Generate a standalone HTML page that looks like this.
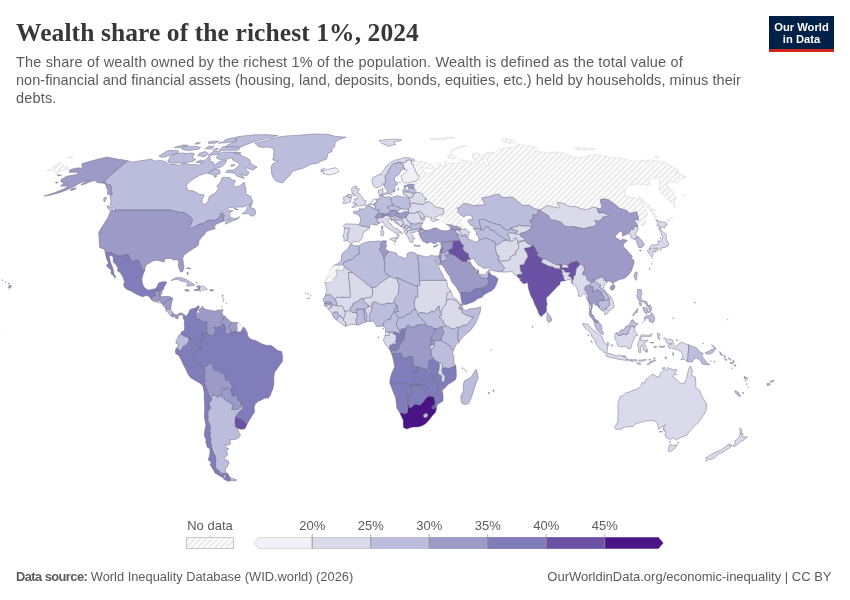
<!DOCTYPE html>
<html lang="en">
<head>
<meta charset="utf-8">
<title>Wealth share of the richest 1%, 2024</title>
<style>
html,body{margin:0;padding:0;background:#fff;}
body{width:850px;height:600px;overflow:hidden;position:relative;font-family:"Liberation Sans",sans-serif;}
#title{position:absolute;left:16px;top:17.5px;font-family:"Liberation Serif",serif;font-weight:bold;font-size:25.5px;line-height:30px;color:#373737;white-space:nowrap;letter-spacing:0.09px;}
#sub{position:absolute;left:16px;top:52.5px;font-size:14.5px;line-height:18px;color:#5b5b5b;white-space:nowrap;}
#sub .a{letter-spacing:0.172px;}#sub .b{letter-spacing:0.037px;}
#logo{position:absolute;left:769px;top:16px;width:65px;height:36px;background:#002147;border-bottom:3px solid #ce261e;box-sizing:border-box;color:#fff;font-weight:bold;font-size:11.2px;line-height:12px;text-align:center;padding-top:4.5px;letter-spacing:0;}
#src{position:absolute;left:16px;top:569px;font-size:12.85px;color:#5b5b5b;white-space:nowrap;}
#src b{font-weight:bold;letter-spacing:-0.55px;}
#lic{position:absolute;right:18.5px;top:569px;font-size:13px;color:#5b5b5b;white-space:nowrap;}
svg{position:absolute;left:0;top:0;}
svg path{stroke-width:0.45;stroke-linejoin:round;}
svg text{font-family:"Liberation Sans",sans-serif;font-size:13px;fill:#5b5b5b;}
</style>
</head>
<body>
<div id="title">Wealth share of the richest 1%, 2024</div>
<div id="sub"><span class="a">The share of wealth owned by the richest 1% of the population. Wealth is defined as the total value of</span><br><span class="b">non-financial and financial assets (housing, land, deposits, bonds, equities, etc.) held by households, minus their</span><br><span class="a">debts.</span></div>
<div id="logo">Our World<br>in Data</div>
<svg width="850" height="600" viewBox="0 0 850 600">
<defs>
<pattern id="hatch" width="4.1" height="4.1" patternUnits="userSpaceOnUse" patternTransform="rotate(45)">
<rect width="4.1" height="4.1" fill="#fff"/><line x1="2.05" y1="0" x2="2.05" y2="4.1" stroke="#e8e8e8" stroke-width="1.9"/>
</pattern>
</defs>
<g id="map">
<path d="M69.9,169.8 74.4,168.4 77.0,168.1 79.7,167.8 81.1,168.1 82.6,168.4 82.1,166.6 81.9,165.2 81.9,163.7 86.3,162.4 90.7,161.1 94.8,160.0 98.9,158.9 103.0,158.0 107.2,157.1 109.1,157.5 111.1,157.9 113.0,158.2 115.6,158.8 118.1,159.3 121.0,159.6 123.9,160.0 125.8,160.4 127.8,160.8 122.7,165.0 117.8,169.2 112.9,173.4 108.2,177.8 103.5,182.2 106.1,182.5 106.7,184.6 109.7,184.4 111.3,185.6 111.3,188.0 111.3,190.7 112.4,192.6 112.0,194.6 110.7,195.5 109.1,194.7 107.5,193.9 107.9,190.2 106.4,187.8 105.9,185.3 104.7,183.4 102.8,183.2 101.0,182.9 98.9,182.7 96.8,182.5 95.2,180.5 90.3,181.7 84.9,184.1 80.8,184.9 85.1,181.7 89.4,180.1 86.9,180.3 82.9,181.7 78.4,184.1 73.4,187.0 66.2,190.2 59.8,192.6 56.3,193.6 52.9,194.6 48.0,195.6 44.0,196.1 49.3,194.4 55.0,192.6 59.3,190.8 63.7,189.0 68.8,186.1 66.0,186.1 63.2,186.1 60.4,186.1 64.0,182.9 62.5,182.3 60.9,181.7 61.1,179.4 66.7,176.3 70.6,175.4 73.3,175.0 75.9,174.7 78.9,172.3 75.4,172.3 72.3,172.3 69.2,172.3Z" fill="#9e9ac8" stroke="#606078"/>
<path d="M127.8,160.8 130.3,161.5 132.8,162.2 135.6,161.6 138.3,161.1 141.9,160.5 145.5,160.0 148.5,159.5 151.5,159.1 152.8,160.1 154.2,161.1 157.9,160.7 161.6,160.4 164.0,161.3 166.4,162.2 167.4,163.3 168.4,164.4 170.9,164.4 173.4,164.5 175.9,164.6 178.5,165.5 183.9,163.3 186.6,164.0 189.3,164.8 192.9,164.6 196.5,164.4 199.0,165.5 202.0,162.8 205.7,159.4 209.5,156.1 210.3,158.9 209.8,161.5 211.6,161.8 213.5,162.2 213.5,165.5 220.2,161.1 223.4,160.7 226.5,160.4 225.3,163.3 222.1,166.6 219.3,167.5 216.5,168.4 213.2,168.2 212.9,171.2 208.1,173.0 205.6,173.5 203.0,174.0 199.7,175.5 196.4,177.0 189.4,181.7 186.3,185.8 186.9,188.0 187.6,190.2 190.7,190.6 193.8,190.9 196.6,192.6 199.4,194.4 201.9,194.6 204.3,194.9 203.1,197.5 201.8,200.1 202.3,203.8 204.9,204.6 208.1,201.3 209.4,196.3 212.5,194.5 215.7,192.6 218.5,189.0 216.9,185.8 220.0,182.9 221.1,180.2 222.2,177.5 225.8,177.5 229.5,177.5 231.0,178.8 232.6,180.1 235.4,180.5 233.5,185.3 235.5,187.0 239.8,185.8 244.3,182.2 245.1,185.6 245.9,189.0 245.8,193.9 248.2,195.1 250.6,196.3 252.7,201.3 251.9,203.8 247.4,205.5 242.8,207.1 238.8,207.1 234.8,207.1 232.2,207.4 229.6,207.6 224.6,210.4 219.0,214.5 222.7,212.9 227.7,210.1 230.3,210.4 233.0,210.7 229.7,213.2 229.9,217.0 231.7,217.8 233.9,218.3 236.1,218.8 239.9,216.5 238.2,218.6 235.8,219.9 231.2,221.4 228.5,222.8 225.7,224.2 225.3,222.2 229.7,219.6 226.5,219.9 224.1,220.9 223.2,218.6 224.3,215.2 223.7,214.5 221.8,214.2 219.4,216.5 216.6,219.6 214.9,220.4 211.6,220.4 208.3,220.4 205.0,222.2 203.4,223.7 200.5,224.1 197.6,224.5 197.3,226.0 193.1,227.5 188.9,228.9 188.1,227.6 190.3,225.5 191.4,222.6 192.5,219.6 191.1,217.8 189.3,215.8 186.3,214.0 183.3,212.2 181.1,212.7 177.9,211.9 174.7,211.2 172.7,210.7 170.8,210.1 166.8,210.1 162.8,210.1 158.8,210.1 154.8,210.1 150.9,210.1 146.9,210.1 142.9,210.1 138.9,210.1 134.9,210.1 130.9,210.1 127.0,210.1 123.0,210.1 119.0,210.1 115.0,210.1 114.7,209.4 113.2,206.9 111.7,206.0 110.1,205.1 111.0,201.3 110.5,199.1 110.1,196.8 110.8,195.6 110.7,195.5 112.0,194.6 112.4,192.6 111.3,190.7 111.3,188.0 111.3,185.6 109.7,184.4 106.7,184.6 106.1,182.5 103.5,182.2 108.2,177.8 112.9,173.4 117.8,169.2 122.7,165.0Z" fill="#bcbddc" stroke="#606078"/>
<path d="M224.1,220.9 219.3,222.9 216.1,224.2 214.4,226.8 215.3,228.6 211.8,229.7 207.2,231.0 205.8,232.0 204.6,234.6 202.3,236.4 200.7,238.5 198.8,241.1 198.5,244.8 196.2,246.9 192.3,249.2 188.9,251.6 184.4,254.7 182.7,258.1 183.1,261.1 183.5,264.1 183.9,267.8 182.6,271.7 180.5,272.0 179.6,269.4 178.1,265.2 179.0,262.0 176.7,259.4 173.6,260.2 171.4,258.4 168.0,258.6 164.6,258.9 164.6,261.8 161.7,261.5 158.7,260.5 154.2,260.5 151.2,262.0 146.5,264.7 144.8,268.6 144.9,270.1 141.1,268.8 140.7,266.0 139.6,263.2 138.7,260.5 135.5,259.9 133.4,262.0 130.9,260.5 129.5,257.6 128.2,254.7 124.4,254.7 124.0,256.0 120.9,256.0 117.8,256.0 114.3,254.2 110.9,252.4 108.2,252.6 105.4,252.8 104.1,249.0 101.9,248.3 99.8,247.7 99.5,244.9 99.2,242.2 99.3,239.0 98.7,234.6 98.8,232.3 101.3,228.1 104.5,222.9 106.3,220.1 108.1,217.3 109.1,214.5 110.2,211.7 115.0,210.1 119.0,210.1 123.0,210.1 127.0,210.1 130.9,210.1 134.9,210.1 138.9,210.1 142.9,210.1 146.9,210.1 150.9,210.1 154.8,210.1 158.8,210.1 162.8,210.1 166.8,210.1 170.8,210.1 172.7,210.7 174.7,211.2 177.9,211.9 181.1,212.7 183.3,212.2 186.3,214.0 189.3,215.8 191.1,217.8 192.5,219.6 191.4,222.6 190.3,225.5 188.1,227.6 188.9,228.9 193.1,227.5 197.3,226.0 197.6,224.5 200.5,224.1 203.4,223.7 205.0,222.2 208.3,220.4 211.6,220.4 214.9,220.4 216.6,219.6 219.4,216.5 221.8,214.2 223.7,214.5 224.3,215.2 223.2,218.6Z" fill="#9e9ac8" stroke="#606078"/>
<path d="M144.9,270.1 142.9,275.1 141.9,279.6 142.6,284.3 144.7,288.2 146.9,289.2 148.3,290.3 152.6,289.2 155.4,288.7 157.6,285.6 158.4,283.0 162.7,281.7 166.1,281.7 166.3,283.5 164.0,286.9 163.2,290.0 162.3,289.5 160.8,290.8 159.8,291.3 155.7,291.3 154.8,292.9 156.3,295.8 153.6,295.8 152.1,298.1 151.9,300.0 148.5,296.0 146.0,295.5 142.5,296.8 138.1,295.0 134.9,293.4 131.1,291.1 127.5,289.8 124.4,287.2 123.5,284.5 124.6,281.7 122.9,277.2 120.2,272.5 117.4,270.7 118.0,268.1 116.1,264.9 113.3,262.0 113.1,256.8 110.0,255.0 109.4,256.8 110.4,262.0 112.0,266.0 113.3,269.9 113.8,273.8 115.9,277.2 114.6,278.0 114.2,276.4 111.0,273.5 111.3,269.9 108.2,267.8 106.4,265.2 108.6,263.1 106.6,258.6 105.7,255.2 105.4,252.9 105.4,252.8 108.2,252.6 110.9,252.4 114.3,254.2 117.8,256.0 120.9,256.0 124.0,256.0 124.4,254.7 128.2,254.7 129.5,257.6 130.9,260.5 133.4,262.0 135.5,259.9 138.7,260.5 139.6,263.2 140.7,266.0 141.1,268.8Z" fill="#807dba" stroke="#606078"/>
<path d="M162.3,289.5 162.0,292.1 161.2,294.7 159.9,296.3 159.2,296.3 159.8,291.3 160.8,290.8Z" fill="#9e9ac8" stroke="#606078"/>
<path d="M159.9,296.3 161.2,296.8 158.9,299.2 158.3,300.2 156.6,301.8 153.6,301.3 151.9,300.0 152.1,298.1 153.6,295.8 156.3,295.8 154.8,292.9 155.7,291.3 159.8,291.3 159.2,296.3Z" fill="#9e9ac8" stroke="#606078"/>
<path d="M161.2,296.8 163.1,296.6 166.5,296.6 168.8,296.3 171.4,297.6 172.7,298.7 169.0,299.2 166.5,301.3 164.3,302.8 162.8,303.9 162.3,304.2 161.7,303.1 160.3,301.3 158.3,300.2 158.9,299.2Z" fill="#9e9ac8" stroke="#606078"/>
<path d="M172.7,298.7 172.0,301.3 171.2,305.2 170.6,309.1 170.9,309.4 168.4,309.1 166.1,308.9 164.2,306.5 162.3,304.2 162.8,303.9 164.3,302.8 166.5,301.3 169.0,299.2Z" fill="#9e9ac8" stroke="#606078"/>
<path d="M170.9,309.4 172.1,311.7 172.9,312.8 172.2,314.4 172.0,316.7 170.3,315.4 168.1,312.5 167.3,311.7 165.7,311.0 166.1,308.9 168.4,309.1Z" fill="#bcbddc" stroke="#606078"/>
<path d="M172.9,312.8 174.2,314.4 176.5,314.9 178.9,313.8 180.1,312.8 182.4,313.3 184.8,315.1 184.2,317.2 183.5,319.1 182.9,316.2 181.1,314.4 179.2,315.4 177.8,316.4 178.6,318.3 176.3,318.8 174.8,317.0 172.0,316.7 172.2,314.4Z" fill="#9e9ac8" stroke="#606078"/>
<path d="M161.7,303.1 159.0,302.8 156.6,301.8 158.3,300.2 160.3,301.3Z" fill="#dadaeb" stroke="#606078"/>
<path d="M184.8,315.1 186.1,317.0 187.4,314.4 189.1,312.3 189.4,310.2 191.1,308.9 195.3,308.1 198.5,305.5 199.3,307.0 196.9,308.9 195.0,313.0 196.0,316.2 196.4,318.8 200.5,319.6 202.9,321.9 207.3,321.7 206.5,326.1 207.6,329.0 206.4,330.6 208.4,334.8 205.1,334.1 201.8,333.5 201.7,335.0 203.1,335.3 202.6,339.2 201.3,338.4 201.4,343.7 201.6,348.9 199.8,347.8 197.2,346.0 194.6,344.2 192.7,341.3 189.0,338.2 186.7,336.9 183.9,336.1 180.7,334.2 181.7,331.4 184.0,331.1 184.8,328.0 184.2,323.5 184.6,320.1 183.5,319.1 184.2,317.2Z" fill="#807dba" stroke="#606078"/>
<path d="M199.3,307.0 197.8,309.1 198.7,309.6 201.8,307.8 202.3,306.0 203.4,307.8 206.0,309.6 208.4,309.9 210.8,310.2 214.7,311.2 218.2,309.9 220.5,310.2 219.0,311.5 222.6,313.0 223.0,315.7 225.0,316.2 223.4,318.0 224.0,319.3 222.1,320.4 221.4,322.5 222.9,324.3 222.9,325.9 218.3,327.2 218.0,328.2 213.9,327.2 214.8,328.5 216.6,332.1 215.2,331.4 215.2,333.7 211.7,335.8 208.4,334.8 206.4,330.6 207.6,329.0 206.5,326.1 207.3,321.7 202.9,321.9 200.5,319.6 196.4,318.8 196.0,316.2 195.0,313.0 196.9,308.9Z" fill="#9e9ac8" stroke="#606078"/>
<path d="M225.0,316.2 228.2,319.6 231.1,322.2 231.3,322.2 231.3,322.5 230.8,324.3 229.4,325.3 229.1,327.4 230.7,329.3 232.5,332.9 230.6,332.9 227.2,334.8 225.1,333.2 224.6,331.6 225.4,327.7 224.3,326.1 224.8,324.8 222.9,324.3 221.4,322.5 222.1,320.4 224.0,319.3 223.4,318.0Z" fill="#9e9ac8" stroke="#606078"/>
<path d="M231.3,322.2 235.0,322.5 238.4,322.7 238.5,322.8 238.4,323.0 237.2,325.1 237.8,330.1 236.9,331.9 233.9,331.4 232.5,332.9 230.7,329.3 229.1,327.4 229.4,325.3 230.8,324.3 231.3,322.5Z" fill="#9e9ac8" stroke="#606078"/>
<path d="M238.5,322.8 241.9,324.8 243.7,326.9 241.8,330.1 240.8,332.1 238.7,331.9 236.9,331.9 237.8,330.1 237.2,325.1 238.4,323.0Z" fill="url(#hatch)" stroke="#cfcfcf"/>
<path d="M243.7,326.9 245.2,328.7 247.5,333.2 247.5,335.8 249.8,338.4 252.1,339.7 255.6,340.5 260.2,343.1 262.5,344.2 267.2,345.5 270.6,345.2 274.1,347.6 277.6,350.5 281.6,351.5 282.6,356.2 282.4,361.4 279.1,365.9 276.9,369.3 274.7,371.9 273.8,377.1 273.8,380.4 273.9,383.7 272.8,388.9 271.2,392.8 270.3,395.4 268.2,398.1 264.8,398.1 261.5,399.9 258.3,401.2 255.2,404.1 254.1,407.2 254.5,412.5 252.4,415.1 250.2,419.0 248.1,422.1 246.1,426.1 246.1,423.4 244.0,421.3 240.0,418.7 239.1,418.5 235.3,416.9 238.8,411.9 242.6,408.8 242.2,404.9 240.4,404.9 240.7,400.7 238.2,400.7 237.4,397.0 236.4,396.2 232.1,395.7 231.0,390.7 230.9,389.7 231.6,387.6 232.1,385.5 230.1,383.2 229.7,380.5 225.5,380.5 224.9,377.3 224.4,374.0 221.4,373.2 218.5,370.9 215.2,370.6 213.0,368.5 212.5,363.3 209.8,363.8 205.6,366.9 203.0,366.5 200.8,366.7 200.5,362.8 196.9,364.1 195.2,361.7 192.5,357.5 194.3,357.3 192.6,354.9 195.0,351.2 198.3,350.1 201.6,348.9 201.4,343.7 201.3,338.4 202.6,339.2 203.1,335.3 201.7,335.0 201.8,333.5 205.1,334.1 208.4,334.8 211.7,335.8 215.2,333.7 215.2,331.4 216.6,332.1 214.8,328.5 213.9,327.2 218.0,328.2 218.3,327.2 222.9,325.9 222.9,324.3 224.8,324.8 224.3,326.1 225.4,327.7 224.6,331.6 225.1,333.2 227.2,334.8 230.6,332.9 232.5,332.9 233.9,331.4 236.9,331.9 238.7,331.9 240.8,332.1 241.8,330.1Z" fill="#807dba" stroke="#606078"/>
<path d="M246.1,426.1 245.2,428.4 243.1,429.2 240.5,429.2 236.8,428.1 235.3,426.8 234.8,421.6 235.3,416.9 239.1,418.5 240.0,418.7 244.0,421.3 246.1,423.4Z" fill="#6a51a3" stroke="#606078"/>
<path d="M235.3,426.8 235.6,428.4 238.3,430.2 239.1,432.9 240.5,434.4 239.2,437.5 236.5,439.1 234.0,439.5 231.4,439.9 229.8,439.4 230.7,443.8 228.0,445.6 225.1,444.6 226.0,447.7 229.0,448.5 226.8,450.3 227.4,455.4 224.3,457.5 224.5,459.3 228.6,461.1 229.0,462.9 227.0,466.9 225.1,469.5 225.8,472.2 228.2,474.2 224.8,473.5 220.7,473.2 219.0,470.7 216.7,469.5 215.3,466.4 215.6,463.1 215.7,459.3 214.9,455.4 213.4,452.9 211.7,447.7 210.5,442.5 211.0,439.1 209.8,436.0 210.4,432.6 209.7,430.8 210.5,427.4 209.3,424.2 207.8,420.3 208.0,417.7 207.7,413.8 208.4,410.4 210.2,408.5 210.0,407.2 208.8,402.0 211.4,400.7 211.7,398.1 211.2,397.5 213.0,394.9 215.6,395.7 217.8,397.5 218.5,395.4 221.5,396.0 225.5,400.2 230.3,402.8 233.4,404.1 231.9,409.1 235.6,409.6 237.8,409.3 240.3,407.5 240.4,404.9 242.2,404.9 242.6,408.8 238.8,411.9 235.3,416.9 234.8,421.6Z" fill="#bcbddc" stroke="#606078"/>
<path d="M228.2,474.2 226.0,474.0 223.7,475.5 224.1,477.7 221.4,477.0 218.6,475.2 215.2,473.2 213.1,469.5 210.0,464.4 211.4,462.6 208.1,459.8 209.2,456.7 209.9,452.9 210.0,449.0 207.3,447.2 205.8,442.5 206.1,439.9 204.2,435.2 204.7,430.8 205.9,425.5 205.3,422.3 204.7,419.0 204.4,415.1 204.6,409.8 204.7,404.6 204.2,399.4 204.2,396.1 204.2,392.8 203.6,389.4 203.0,386.0 202.8,385.8 204.6,383.7 206.4,387.6 207.7,391.5 208.6,394.1 209.7,397.5 211.2,397.5 211.7,398.1 211.4,400.7 208.8,402.0 210.0,407.2 210.2,408.5 208.4,410.4 207.7,413.8 208.0,417.7 207.8,420.3 209.3,424.2 210.5,427.4 209.7,430.8 210.4,432.6 209.8,436.0 211.0,439.1 210.5,442.5 211.7,447.7 213.4,452.9 214.9,455.4 215.7,459.3 215.6,463.1 215.3,466.4 216.7,469.5 219.0,470.7 220.7,473.2 224.8,473.5Z" fill="#807dba" stroke="#606078"/>
<path d="M202.8,385.8 200.0,383.2 195.2,380.5 191.0,377.9 188.2,374.5 185.8,369.3 183.1,364.1 181.0,359.4 178.8,355.7 175.7,353.6 175.4,349.7 177.6,346.8 177.4,349.4 179.3,349.7 180.7,351.0 182.0,348.4 182.9,346.5 186.1,344.7 188.3,341.8 189.0,338.2 192.7,341.3 194.6,344.2 197.2,346.0 199.8,347.8 201.6,348.9 198.3,350.1 195.0,351.2 192.6,354.9 194.3,357.3 192.5,357.5 195.2,361.7 196.9,364.1 200.5,362.8 200.8,366.7 203.0,366.5 205.4,370.6 204.9,373.7 205.3,375.6 204.2,376.6 204.8,377.9 203.7,379.0 205.9,380.5 204.3,383.2 204.6,383.7Z" fill="#807dba" stroke="#606078"/>
<path d="M177.6,346.8 178.5,344.4 176.1,343.7 176.1,340.5 177.9,337.9 178.2,335.8 180.7,334.2 183.9,336.1 186.7,336.9 189.0,338.2 188.3,341.8 186.1,344.7 182.9,346.5 182.0,348.4 180.7,351.0 179.3,349.7 177.4,349.4Z" fill="#bcbddc" stroke="#606078"/>
<path d="M204.6,383.7 204.3,383.2 205.9,380.5 203.7,379.0 204.8,377.9 204.2,376.6 205.3,375.6 204.9,373.7 205.4,370.6 203.0,366.5 205.6,366.9 209.8,363.8 212.5,363.3 213.0,368.5 215.2,370.6 218.5,370.9 221.4,373.2 224.4,374.0 224.9,377.3 225.5,380.5 229.7,380.5 230.1,383.2 232.1,385.5 231.6,387.6 230.9,389.7 231.0,390.7 228.7,388.4 225.7,388.8 222.6,389.2 221.7,391.5 221.5,396.0 218.5,395.4 217.8,397.5 215.6,395.7 213.0,394.9 211.2,397.5 209.7,397.5 208.6,394.1 207.7,391.5 206.4,387.6Z" fill="#9e9ac8" stroke="#606078"/>
<path d="M221.5,396.0 221.7,391.5 222.6,389.2 225.7,388.8 228.7,388.4 231.0,390.7 232.1,395.7 236.4,396.2 237.4,397.0 238.2,400.7 240.7,400.7 240.4,404.9 240.3,407.5 237.8,409.3 235.6,409.6 231.9,409.1 233.4,404.1 230.3,402.8 225.5,400.2Z" fill="#9e9ac8" stroke="#606078"/>
<path d="M228.0,474.7 229.6,476.5 231.7,478.2 234.3,479.1 236.9,480.0 234.8,480.9 232.7,480.7 230.5,480.5 229.3,477.6Z" fill="#bcbddc" stroke="#606078"/>
<path d="M228.0,474.7 229.3,477.6 230.5,480.5 228.3,481.4 225.7,480.0 223.3,479.0 224.6,477.7 225.3,477.0 225.1,475.2 226.7,474.7Z" fill="#807dba" stroke="#606078"/>
<path d="M350.2,244.3 351.5,244.0 354.3,245.8 356.7,245.6 358.2,246.1 359.3,247.7 359.0,252.9 360.4,253.7 356.4,255.0 355.0,257.1 351.5,259.7 347.4,260.7 343.7,262.8 343.6,265.5 340.3,265.5 336.9,265.5 333.5,265.5 333.5,265.5 333.5,265.4 337.4,263.9 340.8,261.0 341.5,258.1 341.4,255.5 342.8,252.9 346.4,250.0 348.1,248.7 349.5,245.8Z" fill="#bcbddc" stroke="#606078"/>
<path d="M358.2,246.1 360.8,244.5 365.2,242.4 369.5,241.6 373.8,241.6 378.1,240.9 381.6,241.4 381.0,243.7 381.1,247.1 379.4,249.5 382.8,254.2 384.1,258.9 384.8,262.0 384.9,266.0 384.3,269.1 386.2,273.8 390.1,276.4 386.7,278.7 383.4,281.0 380.0,283.2 376.2,286.9 372.5,287.8 370.3,287.7 370.3,286.1 367.1,284.8 365.5,282.7 361.0,279.3 356.6,275.9 352.2,272.5 347.9,269.5 343.6,266.5 343.6,265.5 343.7,262.8 347.4,260.7 351.5,259.7 355.0,257.1 356.4,255.0 360.4,253.7 359.0,252.9 359.3,247.7Z" fill="#bcbddc" stroke="#606078"/>
<path d="M381.6,241.4 384.1,240.3 385.2,241.1 387.0,240.9 386.0,242.7 386.0,245.0 387.0,246.3 385.1,248.2 386.4,249.7 388.2,251.1 388.3,252.9 385.7,255.0 384.1,258.9 382.8,254.2 379.4,249.5 381.1,247.1 381.0,243.7Z" fill="#9e9ac8" stroke="#606078"/>
<path d="M388.2,251.1 391.6,251.8 394.0,252.5 396.4,253.1 397.4,255.5 401.7,257.1 405.1,258.6 407.2,256.8 407.0,253.7 410.2,251.8 413.6,252.6 418.1,255.0 417.8,258.9 418.6,261.5 418.9,266.2 419.1,270.9 419.4,275.6 419.5,280.4 419.7,285.6 417.5,285.6 417.5,286.9 413.4,285.1 409.2,283.2 405.1,281.4 401.0,279.6 396.9,277.7 395.1,278.8 392.6,277.6 390.1,276.4 386.2,273.8 384.3,269.1 384.9,266.0 384.8,262.0 384.1,258.9 385.7,255.0 388.3,252.9Z" fill="#bcbddc" stroke="#606078"/>
<path d="M418.1,255.0 422.6,256.0 427.1,257.1 429.3,256.0 431.4,255.2 434.3,256.0 438.5,256.0 440.5,260.7 439.8,264.7 439.4,265.4 437.7,263.3 435.3,259.7 435.5,262.0 437.8,265.2 438.9,267.3 440.4,270.4 443.0,275.1 443.4,277.7 446.5,280.4 442.0,280.4 437.5,280.4 433.0,280.4 428.5,280.4 424.0,280.4 419.5,280.4 419.4,275.6 419.1,270.9 418.9,266.2 418.6,261.5 417.8,258.9Z" fill="#bcbddc" stroke="#606078"/>
<path d="M446.5,280.4 447.3,283.0 447.5,286.6 450.7,290.8 447.4,293.2 446.8,295.8 446.3,298.4 446.6,300.5 445.8,304.7 443.4,307.0 441.9,310.2 441.5,313.0 439.1,309.9 439.2,306.0 437.4,307.3 434.3,312.3 432.0,311.0 429.7,312.5 427.4,313.6 424.0,313.0 420.1,312.3 418.0,315.1 417.5,312.5 415.6,309.4 414.7,307.8 414.1,302.6 414.7,299.8 415.3,297.1 417.8,296.8 417.7,291.9 417.5,286.9 417.5,285.6 419.7,285.6 419.5,280.4 424.0,280.4 428.5,280.4 433.0,280.4 437.5,280.4 442.0,280.4Z" fill="#dadaeb" stroke="#606078"/>
<path d="M450.7,290.8 452.0,294.1 453.3,297.4 456.8,299.4 460.2,303.4 461.9,304.7 460.3,305.2 457.4,302.3 455.0,300.2 452.3,299.7 449.7,298.9 446.6,300.5 446.3,298.4 446.8,295.8 447.4,293.2Z" fill="#dadaeb" stroke="#606078"/>
<path d="M461.9,304.7 462.6,306.8 461.3,307.6 462.4,307.9 461.6,309.1 459.1,309.1 459.0,307.6 460.3,305.2Z" fill="#bcbddc" stroke="#606078"/>
<path d="M462.4,307.9 465.3,310.7 468.2,309.6 471.0,308.6 475.6,308.3 478.1,307.6 480.6,306.8 480.5,310.4 479.9,313.0 478.2,317.0 476.0,322.2 473.8,326.1 470.4,330.6 467.6,332.7 463.5,336.6 460.0,340.3 459.1,342.3 457.7,340.0 457.7,335.3 457.7,330.6 459.7,327.6 460.0,327.2 463.4,325.1 466.8,324.8 470.2,320.9 473.6,317.0 471.3,317.0 467.8,315.7 464.3,314.4 461.9,312.5 461.6,309.1Z" fill="#bcbddc" stroke="#606078"/>
<path d="M459.1,342.3 455.8,345.0 454.4,348.6 453.5,350.2 449.8,347.1 450.1,346.0 445.7,343.3 441.3,340.5 441.6,337.1 443.9,333.2 442.7,330.1 441.5,326.9 442.4,326.9 445.9,325.9 448.2,326.4 451.0,328.5 454.2,328.7 457.2,326.9 459.7,327.6 457.7,330.6 457.7,335.3 457.7,340.0Z" fill="#bcbddc" stroke="#606078"/>
<path d="M453.5,350.2 452.5,353.6 454.1,356.2 453.5,360.1 454.5,364.1 455.9,365.4 451.5,367.5 449.1,368.5 445.2,368.0 442.5,368.1 442.4,364.1 441.2,362.8 438.8,362.5 436.7,361.7 433.9,359.4 431.3,354.9 431.1,352.2 430.9,349.5 432.2,349.1 434.1,346.5 433.6,344.2 434.3,343.9 433.5,340.6 437.4,340.6 441.3,340.5 445.7,343.3 450.1,346.0 449.8,347.1Z" fill="#bcbddc" stroke="#606078"/>
<path d="M455.9,365.4 456.2,370.6 456.4,375.8 455.5,379.8 452.4,381.8 448.4,384.2 447.0,385.5 443.6,389.2 442.0,390.2 442.9,394.1 443.1,399.4 442.7,401.2 438.3,403.8 436.8,405.7 436.6,408.3 434.9,408.1 434.7,405.8 435.0,402.0 434.4,399.2 433.7,396.5 436.4,393.6 437.5,389.7 437.9,386.3 438.3,381.6 436.0,381.1 432.5,378.7 432.1,377.1 435.1,376.1 439.0,374.5 441.7,375.8 441.5,380.5 443.5,382.6 444.8,379.8 445.1,376.6 442.3,373.2 442.0,369.8 442.5,368.1 445.2,368.0 449.1,368.5 451.5,367.5Z" fill="#807dba" stroke="#606078"/>
<path d="M436.6,408.3 435.4,412.5 433.0,415.1 431.8,416.4 429.2,420.0 425.6,423.7 422.1,425.8 419.2,426.8 416.2,427.0 413.3,427.1 411.1,427.4 406.6,428.9 403.4,427.6 403.2,423.7 403.2,420.3 401.2,415.9 399.8,412.7 402.0,413.0 405.3,413.5 407.6,412.2 407.8,407.5 408.0,402.8 409.3,408.0 412.3,406.7 414.7,404.1 417.5,404.6 420.2,405.1 423.6,401.5 426.2,397.5 429.5,396.0 433.7,396.5 434.4,399.2 435.0,402.0 434.7,405.8 433.0,405.4 432.0,407.7 433.0,409.3 434.9,408.1Z" fill="#4a1486" stroke="#606078"/>
<path d="M399.8,412.7 397.0,408.5 396.3,403.3 396.0,400.4 395.7,397.5 393.6,392.8 392.5,390.0 391.4,387.1 389.9,383.2 392.7,382.4 394.9,383.4 398.3,383.4 401.8,383.4 405.2,383.4 408.0,384.2 410.8,385.0 413.6,384.5 416.3,383.9 418.8,383.7 420.5,384.5 418.8,385.0 416.1,385.0 413.4,385.4 410.8,385.8 410.7,390.6 410.5,395.4 408.2,395.4 408.1,399.1 408.0,402.8 407.8,407.5 407.6,412.2 405.3,413.5 402.0,413.0Z" fill="#807dba" stroke="#606078"/>
<path d="M389.9,383.2 390.0,379.8 390.8,376.5 391.7,373.2 393.2,369.9 394.7,366.7 393.6,361.4 392.5,356.2 391.4,353.6 394.1,353.3 397.7,353.3 401.3,353.3 402.2,357.5 405.1,357.9 407.9,358.3 407.9,356.2 410.3,356.2 413.2,357.0 413.4,360.4 413.6,363.8 414.2,367.2 418.2,366.4 418.1,369.2 418.0,371.9 413.5,371.9 413.4,376.1 413.2,380.3 416.3,383.9 413.6,384.5 410.8,385.0 408.0,384.2 405.2,383.4 401.8,383.4 398.3,383.4 394.9,383.4 392.7,382.4Z" fill="#807dba" stroke="#606078"/>
<path d="M391.4,353.6 390.9,352.0 393.0,350.2 396.2,350.7 398.3,349.1 399.4,346.4 400.4,343.7 404.1,339.5 404.4,336.7 404.6,334.0 405.9,328.7 405.9,326.7 408.0,324.6 410.3,326.4 414.7,327.2 415.8,325.3 419.3,324.6 421.4,324.3 423.8,324.4 426.2,324.6 428.6,326.7 431.1,326.1 434.2,328.7 435.3,332.1 432.3,335.3 431.4,339.2 431.4,341.6 430.4,343.7 430.0,345.2 430.4,348.1 430.9,349.5 431.1,352.2 431.3,354.9 433.9,359.4 429.6,360.1 428.4,362.2 428.8,365.4 428.2,369.0 431.4,369.8 431.3,373.0 428.2,370.6 425.5,368.8 422.7,369.0 421.1,367.5 419.1,367.7 418.2,366.4 414.2,367.2 413.6,363.8 413.4,360.4 413.2,357.0 410.3,356.2 407.9,356.2 407.9,358.3 405.1,357.9 402.2,357.5 401.3,353.3 397.7,353.3 394.1,353.3Z" fill="#9e9ac8" stroke="#606078"/>
<path d="M390.9,352.0 390.2,350.2 388.6,348.1 389.8,346.8 390.0,344.7 391.9,345.2 392.8,343.4 395.1,344.2 396.3,343.1 395.1,341.8 396.3,339.2 396.0,334.5 393.5,334.5 393.7,332.1 396.5,332.4 400.0,333.5 400.4,332.1 401.3,328.7 405.9,328.7 404.6,334.0 404.4,336.7 404.1,339.5 400.4,343.7 399.4,346.4 398.3,349.1 396.2,350.7 393.0,350.2Z" fill="#807dba" stroke="#606078"/>
<path d="M388.6,348.1 385.2,344.2 383.3,339.7 384.7,337.1 385.1,335.3 385.2,335.3 389.1,335.3 389.1,332.1 393.7,332.1 393.5,334.5 396.0,334.5 396.3,339.2 395.1,341.8 396.3,343.1 395.1,344.2 392.8,343.4 391.9,345.2 390.0,344.7 389.8,346.8Z" fill="#dadaeb" stroke="#606078"/>
<path d="M385.1,335.3 385.2,335.0 385.6,331.9 389.1,332.1 389.1,335.3 385.2,335.3Z" fill="#f2f0f7" stroke="#606078"/>
<path d="M385.6,331.9 385.4,329.3 384.9,327.4 382.8,325.9 383.5,322.7 385.6,320.9 387.2,319.6 390.2,319.6 391.1,315.9 393.4,313.0 394.7,309.1 396.5,307.8 395.3,303.6 397.2,305.5 397.7,309.6 398.7,311.7 395.2,311.7 395.0,312.8 396.9,315.5 398.7,318.3 396.7,321.9 396.5,324.8 397.9,327.7 400.4,332.1 400.0,333.5 396.5,332.4 393.7,332.1 389.1,332.1Z" fill="#bcbddc" stroke="#606078"/>
<path d="M382.8,325.9 379.6,326.4 376.8,326.7 374.5,322.7 373.1,321.4 369.2,321.3 369.3,317.8 369.4,314.4 371.7,310.4 371.3,307.3 372.4,302.6 375.6,301.5 379.1,303.9 383.6,304.4 387.1,303.1 391.7,303.6 394.2,302.1 395.3,303.6 396.5,307.8 394.7,309.1 393.4,313.0 391.1,315.9 390.2,319.6 387.2,319.6 385.6,320.9 383.5,322.7Z" fill="#bcbddc" stroke="#606078"/>
<path d="M369.2,321.3 366.7,321.7 366.7,318.0 366.7,314.4 364.8,311.0 365.1,309.1 366.2,308.1 368.5,306.8 368.5,305.7 369.4,305.5 371.3,307.3 371.7,310.4 369.4,314.4 369.3,317.8Z" fill="#dadaeb" stroke="#606078"/>
<path d="M366.7,321.7 365.8,321.9 364.4,320.1 364.4,318.3 363.7,314.9 364.2,311.7 362.8,308.9 365.1,309.1 364.8,311.0 366.7,314.4 366.7,318.0Z" fill="#bcbddc" stroke="#606078"/>
<path d="M365.8,321.9 363.0,323.0 358.4,325.3 355.8,324.6 356.5,323.3 355.6,320.1 357.2,316.4 356.6,312.5 356.6,309.1 359.2,309.1 361.9,309.1 362.8,308.9 364.2,311.7 363.7,314.9 364.4,318.3 364.4,320.1Z" fill="#bcbddc" stroke="#606078"/>
<path d="M355.8,324.6 351.5,324.3 348.6,325.3 345.7,326.4 345.7,322.7 343.6,320.9 343.6,318.0 344.6,315.7 345.3,313.3 344.6,311.2 346.9,311.2 348.7,310.2 350.4,310.7 352.2,312.5 356.6,312.5 357.2,316.4 355.6,320.1 356.5,323.3Z" fill="#dadaeb" stroke="#606078"/>
<path d="M345.7,326.4 341.8,324.0 338.1,321.4 336.5,319.9 339.3,315.7 341.1,315.9 341.6,318.0 343.6,318.0 343.6,320.9 345.7,322.7Z" fill="#dadaeb" stroke="#606078"/>
<path d="M336.5,319.9 334.2,318.3 332.6,315.7 332.4,314.1 334.2,312.0 337.2,311.7 338.6,314.1 339.3,315.7Z" fill="#bcbddc" stroke="#606078"/>
<path d="M332.4,314.1 331.5,313.0 329.4,310.4 328.5,309.1 329.2,307.8 331.5,307.3 331.6,304.8 334.2,305.1 336.8,305.5 339.4,306.0 341.7,305.5 343.0,307.8 343.9,309.1 344.6,311.2 345.3,313.3 344.6,315.7 343.6,318.0 341.6,318.0 341.1,315.9 339.3,315.7 338.6,314.1 337.2,311.7 334.2,312.0Z" fill="#dadaeb" stroke="#606078"/>
<path d="M328.5,309.1 326.3,307.0 324.7,305.7 328.1,304.7 331.6,304.8 331.5,307.3 329.2,307.8Z" fill="#dadaeb" stroke="#606078"/>
<path d="M324.7,305.7 324.5,303.6 326.8,303.5 327.7,303.1 331.4,303.4 331.4,302.6 328.6,301.8 324.5,302.3 322.9,299.4 325.3,295.8 327.6,294.7 330.4,294.5 333.3,297.4 335.1,299.3 336.9,302.8 336.8,305.5 334.2,305.1 331.6,304.8 328.1,304.7Z" fill="#bcbddc" stroke="#606078"/>
<path d="M324.5,303.6 324.5,302.3 328.6,301.8 331.4,302.6 331.4,303.4 327.7,303.1 326.8,303.5Z" fill="#bcbddc" stroke="#606078"/>
<path d="M325.3,295.8 326.6,290.8 326.0,286.9 325.6,284.0 324.5,282.2 328.9,282.2 333.3,282.2 333.7,277.7 335.9,276.7 336.0,273.3 336.1,269.9 339.8,269.9 343.6,269.9 343.6,266.5 347.9,269.5 352.2,272.5 348.4,272.5 348.8,276.9 349.2,281.4 349.6,285.8 350.0,290.3 350.4,294.7 350.9,295.3 350.2,297.4 346.0,297.4 341.7,297.4 338.5,297.6 336.7,297.1 335.1,299.3 333.3,297.4 330.4,294.5 327.6,294.7Z" fill="#dadaeb" stroke="#606078"/>
<path d="M324.5,282.2 325.7,279.0 326.9,275.9 329.8,271.2 330.7,269.1 333.5,265.5 333.5,265.5 336.9,265.5 340.3,265.5 343.6,265.5 343.6,266.5 343.6,269.9 339.8,269.9 336.1,269.9 336.0,273.3 335.9,276.7 333.7,277.7 333.3,282.2 328.9,282.2Z" fill="url(#hatch)" stroke="#cfcfcf"/>
<path d="M335.1,299.3 336.7,297.1 338.5,297.6 341.7,297.4 346.0,297.4 350.2,297.4 350.9,295.3 350.4,294.7 350.0,290.3 349.6,285.8 349.2,281.4 348.8,276.9 348.4,272.5 352.2,272.5 356.6,275.9 361.0,279.3 365.5,282.7 367.1,284.8 370.3,286.1 370.3,287.7 372.5,287.8 372.6,291.3 372.6,294.7 371.0,297.6 368.5,297.7 366.0,297.9 363.5,298.8 361.4,298.4 358.4,300.8 356.1,302.1 353.1,303.4 352.9,305.7 350.8,307.0 350.4,310.7 348.7,310.2 346.9,311.2 344.6,311.2 343.9,309.1 343.0,307.8 341.7,305.5 339.4,306.0 336.8,305.5 336.9,302.8Z" fill="#dadaeb" stroke="#606078"/>
<path d="M372.5,287.8 376.2,286.9 380.0,283.2 383.4,281.0 386.7,278.7 390.1,276.4 392.6,277.6 395.1,278.8 396.9,277.7 398.1,283.0 399.1,284.5 398.7,289.1 398.4,293.7 396.3,296.8 394.1,300.0 394.2,302.1 391.7,303.6 387.1,303.1 383.6,304.4 379.1,303.9 375.6,301.5 372.4,302.6 371.3,307.3 369.4,305.5 368.5,305.7 368.5,306.8 367.8,304.7 365.3,302.8 363.9,301.3 363.5,298.8 366.0,297.9 368.5,297.7 371.0,297.6 372.6,294.7 372.6,291.3Z" fill="#dadaeb" stroke="#606078"/>
<path d="M396.9,277.7 401.0,279.6 405.1,281.4 409.2,283.2 413.4,285.1 417.5,286.9 417.7,291.9 417.8,296.8 415.3,297.1 414.7,299.8 414.1,302.6 414.7,307.8 415.6,309.4 412.9,310.2 410.0,314.1 406.7,314.4 404.5,317.0 401.0,317.8 398.7,318.3 396.9,315.5 395.0,312.8 395.2,311.7 398.7,311.7 397.7,309.6 397.2,305.5 395.3,303.6 394.2,302.1 394.1,300.0 396.3,296.8 398.4,293.7 398.7,289.1 399.1,284.5 398.1,283.0Z" fill="#bcbddc" stroke="#606078"/>
<path d="M363.5,298.8 363.9,301.3 365.3,302.8 367.8,304.7 368.5,306.8 366.2,308.1 365.1,309.1 362.8,308.9 361.9,309.1 359.2,309.1 356.6,309.1 356.6,312.5 352.2,312.5 350.4,310.7 350.8,307.0 352.9,305.7 353.1,303.4 356.1,302.1 358.4,300.8 361.4,298.4Z" fill="#bcbddc" stroke="#606078"/>
<path d="M400.4,332.1 397.9,327.7 396.5,324.8 396.7,321.9 398.7,318.3 401.0,317.8 404.5,317.0 406.7,314.4 410.0,314.1 412.9,310.2 415.6,309.4 417.5,312.5 418.0,315.1 419.4,316.4 421.1,318.3 423.9,320.9 426.2,324.6 423.8,324.4 421.4,324.3 419.3,324.6 415.8,325.3 414.7,327.2 410.3,326.4 408.0,324.6 405.9,326.7 405.9,328.7 401.3,328.7Z" fill="#bcbddc" stroke="#606078"/>
<path d="M426.2,324.6 423.9,320.9 421.1,318.3 419.4,316.4 418.0,315.1 420.1,312.3 424.0,313.0 427.4,313.6 429.7,312.5 432.0,311.0 434.3,312.3 437.4,307.3 439.2,306.0 439.1,309.9 441.5,313.0 441.5,315.4 439.0,317.0 440.6,317.8 443.0,320.4 444.4,323.8 445.9,325.9 442.4,326.9 441.5,326.9 439.2,328.0 436.9,328.7 434.2,328.7 431.1,326.1 428.6,326.7Z" fill="#bcbddc" stroke="#606078"/>
<path d="M441.5,313.0 441.9,310.2 443.4,307.0 445.8,304.7 446.6,300.5 449.7,298.9 452.3,299.7 455.0,300.2 457.4,302.3 460.3,305.2 459.0,307.6 459.1,309.1 461.6,309.1 461.9,312.5 464.3,314.4 467.8,315.7 471.3,317.0 473.6,317.0 470.2,320.9 466.8,324.8 463.4,325.1 460.0,327.2 459.7,327.6 457.2,326.9 454.2,328.7 451.0,328.5 448.2,326.4 445.9,325.9 444.4,323.8 443.0,320.4 440.6,317.8 439.0,317.0 441.5,315.4Z" fill="#dadaeb" stroke="#606078"/>
<path d="M434.2,328.7 436.9,328.7 439.2,328.0 441.5,326.9 442.7,330.1 443.9,333.2 441.6,337.1 441.3,340.5 437.4,340.6 433.5,340.6 431.4,341.6 431.4,339.2 432.3,335.3 435.3,332.1Z" fill="#9e9ac8" stroke="#606078"/>
<path d="M431.4,341.6 433.5,340.6 434.3,343.9 433.6,344.2 431.8,345.2 430.0,345.2 430.4,343.7Z" fill="#9e9ac8" stroke="#606078"/>
<path d="M430.0,345.2 431.8,345.2 433.6,344.2 434.1,346.5 432.2,349.1 430.9,349.5 430.4,348.1Z" fill="#dadaeb" stroke="#606078"/>
<path d="M433.9,359.4 436.7,361.7 438.8,362.5 439.5,366.2 438.7,370.6 437.9,373.5 439.0,374.5 435.1,376.1 432.1,377.1 432.5,378.7 429.0,379.8 424.5,385.0 420.5,384.5 418.8,383.7 416.3,383.9 413.2,380.3 413.4,376.1 413.5,371.9 418.0,371.9 418.1,369.2 418.2,366.4 419.1,367.7 421.1,367.5 422.7,369.0 425.5,368.8 428.2,370.6 431.3,373.0 431.4,369.8 428.2,369.0 428.8,365.4 428.4,362.2 429.6,360.1Z" fill="#807dba" stroke="#606078"/>
<path d="M438.8,362.5 441.2,362.8 442.4,364.1 442.5,368.1 442.0,369.8 442.3,373.2 445.1,376.6 444.8,379.8 443.5,382.6 441.5,380.5 441.7,375.8 439.0,374.5 437.9,373.5 438.7,370.6 439.5,366.2Z" fill="#dadaeb" stroke="#606078"/>
<path d="M420.5,384.5 424.5,385.0 429.0,379.8 432.5,378.7 436.0,381.1 438.3,381.6 437.9,386.3 437.5,389.7 436.4,393.6 433.7,396.5 429.5,396.0 425.8,391.5 422.1,388.9Z" fill="#807dba" stroke="#606078"/>
<path d="M408.0,402.8 408.1,399.1 408.2,395.4 410.5,395.4 410.7,390.6 410.8,385.8 413.4,385.4 416.1,385.0 418.8,385.0 420.5,384.5 422.1,388.9 425.8,391.5 429.5,396.0 426.2,397.5 423.6,401.5 420.2,405.1 417.5,404.6 414.7,404.1 412.3,406.7 409.3,408.0Z" fill="#807dba" stroke="#606078"/>
<path d="M434.7,405.8 434.9,408.1 433.0,409.3 432.0,407.7 433.0,405.4Z" fill="#6a51a3" stroke="#606078"/>
<path d="M423.0,415.3 425.8,413.0 428.1,414.5 427.6,416.4 425.4,417.9 423.7,417.2Z" fill="#bcbddc" stroke="#606078"/>
<path d="M476.2,369.3 477.1,372.6 477.9,375.8 478.2,378.4 476.7,381.1 475.5,385.0 474.2,388.9 472.9,392.8 471.5,396.8 470.0,400.7 468.7,403.3 465.2,404.6 461.9,403.3 460.9,399.4 460.9,395.4 463.5,391.5 463.1,386.3 464.1,381.1 468.1,379.0 471.7,376.6 473.5,373.0Z" fill="#bcbddc" stroke="#606078"/>
<path d="M351.3,243.5 349.4,242.4 347.0,240.6 346.8,239.6 348.0,238.0 347.6,235.4 347.0,234.1 348.3,233.6 348.6,230.7 349.9,229.2 349.1,228.2 345.7,228.4 344.4,228.4 343.5,225.5 346.3,223.7 348.6,223.9 350.9,224.0 355.1,224.2 359.2,224.5 360.1,225.3 361.5,225.8 364.5,226.3 366.2,226.8 369.6,227.0 369.7,228.4 367.7,229.7 364.7,231.2 363.0,233.8 362.4,234.9 363.4,236.4 361.9,237.7 361.3,239.6 358.7,241.6 356.1,241.8 353.5,241.9Z" fill="#dadaeb" stroke="#606078"/>
<path d="M347.0,240.6 343.8,241.1 344.1,237.5 342.6,236.7 344.1,232.8 344.4,228.4 345.7,228.4 349.1,228.2 349.9,229.2 348.6,230.7 348.3,233.6 347.0,234.1 347.6,235.4 348.0,238.0 346.8,239.6Z" fill="#dadaeb" stroke="#606078"/>
<path d="M359.2,224.5 360.5,221.1 360.5,217.8 358.5,215.0 356.2,214.1 353.8,213.2 353.3,211.7 356.9,210.7 359.8,211.2 359.4,208.4 360.6,209.1 363.2,208.9 366.0,207.4 366.2,205.3 368.0,204.8 369.4,205.8 371.2,206.9 371.4,207.7 372.6,207.2 372.8,208.1 374.7,208.9 375.8,209.0 376.5,209.6 379.6,210.2 378.4,211.9 378.5,213.7 377.3,214.2 375.5,216.5 375.5,217.3 377.0,216.8 377.5,218.1 377.0,218.3 377.5,219.9 377.3,221.9 379.0,222.4 378.6,223.5 376.6,225.3 374.3,224.8 371.4,224.2 369.5,225.3 369.6,227.0 366.2,226.8 364.5,226.3 361.5,225.8 360.1,225.3Z" fill="#bcbddc" stroke="#606078"/>
<path d="M368.0,204.8 369.8,204.1 371.5,204.2 372.9,204.0 374.5,204.7 374.4,205.6 375.0,205.7 375.6,206.3 375.2,207.2 375.8,209.0 374.7,208.9 372.8,208.1 372.6,207.2 371.4,207.7 371.2,206.9 369.4,205.8Z" fill="#f2f0f7" stroke="#606078"/>
<path d="M369.8,204.1 370.9,202.6 372.2,200.1 373.8,199.1 376.7,199.1 377.0,199.0 377.1,199.3 376.9,200.6 376.8,201.8 376.4,202.8 374.9,203.1 375.1,204.6 375.0,205.7 374.4,205.6 374.5,204.7 372.9,204.0 371.5,204.2Z" fill="#f2f0f7" stroke="#606078"/>
<path d="M377.0,199.0 379.6,198.6 379.9,197.6 379.6,195.3 382.1,195.6 384.3,196.6 384.4,197.6 386.9,196.8 389.4,196.6 390.6,197.8 391.2,199.3 390.7,200.3 391.7,201.3 392.1,202.6 392.8,204.3 392.5,205.5 391.5,205.1 389.0,206.6 387.4,206.9 388.1,208.1 390.9,210.8 389.4,211.9 389.3,213.5 387.9,213.7 385.4,214.2 383.8,214.2 382.6,213.8 380.5,213.5 378.5,213.7 378.4,211.9 379.6,210.2 376.5,209.6 375.8,209.0 375.2,207.2 375.6,206.3 375.0,205.7 375.1,204.6 374.9,203.1 376.4,202.8 376.8,201.8 376.9,200.6 377.1,199.3Z" fill="#bcbddc" stroke="#606078"/>
<path d="M379.6,195.3 378.6,193.6 378.4,190.2 381.0,189.7 383.0,188.5 382.6,191.4 383.8,191.9 382.5,193.1 381.7,194.6 382.1,195.6Z" fill="#dadaeb" stroke="#606078"/>
<path d="M390.6,197.8 392.8,197.1 395.0,196.3 398.4,195.6 399.3,196.6 401.0,196.5 404.1,196.6 407.2,196.7 408.7,197.7 410.0,200.8 409.4,202.3 409.8,203.8 411.1,206.1 408.7,208.6 408.5,209.9 406.1,209.1 403.5,209.6 402.2,208.8 400.9,208.9 398.4,206.9 396.8,206.9 395.5,206.0 393.7,205.6 392.5,205.5 392.8,204.3 392.1,202.6 391.7,201.3 390.7,200.3 391.2,199.3Z" fill="#bcbddc" stroke="#606078"/>
<path d="M401.0,196.5 401.6,195.1 403.6,194.4 405.4,194.9 406.8,195.3 407.2,196.7 404.1,196.6Z" fill="url(#hatch)" stroke="#cfcfcf"/>
<path d="M403.6,194.4 403.2,192.4 404.9,191.7 408.8,191.9 410.7,192.1 414.0,193.4 414.0,194.6 412.8,195.3 412.7,197.1 410.5,197.8 408.7,197.7 407.2,196.7 406.8,195.3 405.4,194.9Z" fill="#dadaeb" stroke="#606078"/>
<path d="M403.2,192.4 402.8,190.2 403.9,188.7 405.6,188.5 407.0,189.9 408.5,190.2 408.9,188.0 410.6,187.8 411.9,188.1 414.6,188.8 415.4,189.2 416.9,192.3 414.0,193.4 410.7,192.1 408.8,191.9 404.9,191.7Z" fill="#bcbddc" stroke="#606078"/>
<path d="M408.9,188.0 407.4,186.8 406.7,184.9 409.4,184.1 412.2,184.2 415.1,184.2 414.0,185.3 414.5,186.5 414.6,188.8 411.9,188.1 410.6,187.8Z" fill="#9e9ac8" stroke="#606078"/>
<path d="M415.1,184.2 416.5,182.9 415.9,181.7 414.1,181.7 415.8,180.8 417.5,179.8 419.5,176.1 416.4,174.2 417.0,173.0 415.0,171.4 415.5,169.6 412.9,166.8 414.1,165.0 411.2,163.9 411.5,162.0 414.3,160.4 416.2,160.8 418.2,161.3 420.8,161.5 423.3,161.7 427.1,163.0 431.0,164.4 434.1,167.1 432.3,168.4 428.9,168.7 426.2,168.2 423.5,167.8 419.9,167.3 423.1,169.3 424.4,172.3 428.3,173.7 430.2,172.8 433.5,172.1 432.8,170.0 435.6,168.0 439.3,168.4 438.2,165.5 437.0,163.3 439.0,163.5 440.9,163.7 442.9,166.6 444.8,165.0 447.8,163.9 450.2,163.6 452.6,163.3 454.5,163.7 456.8,163.4 459.2,163.0 461.5,162.6 463.8,162.2 463.7,160.4 466.9,160.9 470.1,161.5 473.0,162.0 475.8,162.6 479.0,163.7 478.5,161.5 474.3,160.0 472.2,156.7 472.9,154.0 474.7,153.1 477.0,153.5 479.3,154.0 482.4,157.8 484.0,162.2 488.4,166.6 488.7,164.4 486.7,160.0 482.8,156.7 483.8,154.6 486.4,154.9 489.1,155.2 490.0,153.8 490.9,152.5 493.4,152.2 495.9,151.9 497.2,150.6 498.3,149.4 500.2,148.9 502.0,148.4 504.2,148.0 506.4,147.7 508.6,147.4 510.8,147.1 513.1,146.8 515.3,146.6 516.7,145.3 518.1,144.0 521.3,144.7 524.4,145.4 527.4,145.7 530.3,146.0 533.3,146.4 537.5,148.4 536.1,149.7 534.5,151.0 538.3,151.6 542.0,152.1 544.9,152.2 547.7,152.3 550.5,152.5 553.5,152.3 556.5,152.2 559.5,152.1 563.2,153.1 566.9,154.2 573.3,156.7 578.5,158.2 580.0,157.5 581.5,156.7 584.2,156.9 586.9,157.1 587.8,156.0 588.7,154.8 592.0,154.9 595.3,154.9 598.7,155.0 603.1,155.9 607.6,156.7 613.0,158.2 616.0,158.0 618.9,157.8 623.8,158.9 628.7,160.0 632.2,161.3 635.4,161.2 638.6,161.1 640.3,160.5 642.0,160.0 645.7,161.1 649.4,162.2 646.9,160.0 650.1,160.2 653.2,160.4 656.3,160.6 661.0,161.5 665.8,162.4 672.4,166.7 679.0,171.2 678.0,172.3 675.6,171.9 683.8,175.8 686.3,177.0 684.3,177.8 682.2,178.6 680.7,179.6 679.2,180.5 678.4,181.7 677.6,182.9 674.0,182.6 670.3,182.2 668.7,182.8 667.1,183.4 666.6,184.9 669.4,187.8 668.1,188.2 673.5,191.4 673.3,192.6 675.2,195.1 676.3,199.6 673.8,200.1 675.0,205.1 670.1,201.3 666.7,198.2 663.2,195.1 658.9,190.2 659.1,187.8 659.2,185.9 659.3,184.1 659.6,181.7 659.8,178.9 658.4,177.0 655.8,177.8 653.2,178.6 650.7,178.9 648.3,179.1 649.4,181.6 650.4,184.1 648.3,184.7 646.1,185.3 642.7,184.7 639.3,184.1 636.1,184.2 633.0,184.4 630.3,184.9 627.5,185.3 626.5,187.1 625.5,189.0 625.0,192.0 624.4,195.1 630.5,197.6 633.4,197.6 639.1,199.6 642.0,202.1 642.8,205.1 646.7,210.1 647.6,212.7 646.7,217.3 645.5,221.7 643.8,225.5 639.3,225.0 637.9,227.3 637.5,227.0 637.6,225.0 634.8,220.9 635.5,219.6 638.4,220.4 638.3,217.0 637.1,213.5 636.7,211.7 633.2,212.4 629.8,213.5 626.7,210.4 622.9,209.3 619.1,208.1 615.9,205.1 612.5,202.5 609.0,199.9 604.1,198.7 600.7,199.3 600.4,201.1 600.9,203.6 601.8,206.9 600.1,208.9 597.3,208.0 594.8,207.5 592.3,207.1 590.3,208.6 588.4,209.1 586.4,209.6 584.0,209.4 581.5,209.1 577.3,207.1 573.6,206.6 570.4,206.3 567.3,206.1 566.0,204.3 562.3,203.3 558.5,202.3 557.0,202.8 559.4,206.3 558.4,208.1 554.9,207.2 551.5,206.3 547.5,205.6 545.3,206.9 543.1,208.1 541.3,208.9 539.5,209.8 536.9,209.2 534.3,208.6 529.1,205.1 525.7,205.2 522.4,205.3 518.9,202.3 515.4,199.3 512.0,196.8 509.0,197.2 506.0,197.6 503.6,197.3 501.3,197.1 499.8,194.6 495.8,194.4 492.4,195.5 489.0,196.6 485.4,197.2 481.8,197.8 483.1,201.3 485.5,205.1 482.6,205.1 479.7,205.1 476.2,205.3 472.7,205.6 469.3,204.3 466.5,203.8 463.6,203.3 460.5,206.1 460.3,207.6 456.9,207.9 458.4,209.6 457.3,211.7 458.5,212.7 462.5,216.3 464.4,216.5 462.0,218.6 460.4,220.9 462.5,225.5 465.4,228.5 464.4,230.2 463.0,229.9 460.8,228.4 457.4,226.3 455.0,226.6 451.9,225.0 449.3,224.8 446.6,224.5 444.2,222.9 440.6,221.1 439.1,219.6 440.5,219.3 441.8,217.8 440.5,216.3 441.5,216.0 443.3,214.7 441.1,215.0 444.0,212.9 443.6,211.2 443.6,208.6 441.5,208.2 439.3,207.9 436.7,207.2 434.2,206.6 433.5,205.1 429.6,201.7 425.8,202.3 424.5,199.6 426.9,199.1 422.5,195.6 422.7,194.4 420.5,193.0 416.9,192.3 415.4,189.2 414.6,188.8 414.5,186.5 414.0,185.3Z" fill="url(#hatch)" stroke="#cfcfcf"/>
<path d="M414.1,181.7 411.6,182.1 409.0,182.5 407.2,182.8 405.3,183.2 402.2,181.0 401.6,178.2 401.0,175.8 403.5,174.0 406.2,171.4 407.4,170.5 405.1,169.3 403.6,167.1 403.3,164.6 401.6,163.5 399.5,162.8 397.5,162.0 399.8,162.2 403.0,162.8 406.1,161.9 406.7,160.2 409.5,159.8 411.5,160.6 411.5,162.0 411.2,163.9 414.1,165.0 412.9,166.8 415.5,169.6 415.0,171.4 417.0,173.0 416.4,174.2 419.5,176.1 417.5,179.8 415.8,180.8Z" fill="#f2f0f7" stroke="#606078"/>
<path d="M405.1,169.3 403.3,169.6 401.6,169.8 400.4,172.3 399.1,174.2 396.2,176.3 394.5,178.2 394.5,181.3 397.3,182.5 398.0,184.1 394.8,186.3 394.3,189.0 393.6,192.1 390.7,192.6 390.3,194.1 388.0,194.1 387.1,192.1 387.5,190.9 385.7,189.0 383.9,185.6 384.8,183.4 385.8,180.5 385.1,178.9 384.9,175.8 387.7,173.5 388.1,170.7 389.8,168.2 391.1,165.9 393.6,163.3 395.4,163.3 397.1,163.3 397.5,162.0 399.5,162.8 401.6,163.5 403.3,164.6 403.6,167.1Z" fill="#bcbddc" stroke="#606078"/>
<path d="M383.9,185.6 382.6,183.2 382.0,185.3 378.9,187.3 376.2,187.8 373.5,186.1 372.2,182.9 372.1,179.4 372.6,177.7 375.6,176.3 378.2,174.7 381.5,174.7 380.4,173.5 382.8,171.2 384.7,168.9 385.7,166.6 387.8,165.5 388.4,163.9 390.8,162.6 393.1,161.1 395.4,160.0 398.6,159.5 401.6,158.2 403.5,157.9 405.3,157.6 407.1,157.7 408.9,157.8 412.5,158.9 414.3,159.3 414.3,160.4 411.5,162.0 411.5,160.6 409.5,159.8 406.7,160.2 406.1,161.9 403.0,162.8 399.8,162.2 397.5,162.0 397.1,163.3 395.4,163.3 393.6,163.3 391.1,165.9 389.8,168.2 388.1,170.7 387.7,173.5 384.9,175.8 385.1,178.9 385.8,180.5 384.8,183.4Z" fill="#dadaeb" stroke="#606078"/>
<path d="M637.9,227.3 637.8,230.7 635.6,233.3 635.5,235.1 638.3,236.9 635.8,238.0 634.6,239.0 632.3,238.8 631.0,237.7 630.6,234.9 628.1,233.6 630.1,231.0 630.7,228.6 633.4,229.4 633.3,228.1 635.1,225.8 637.5,227.0Z" fill="#dadaeb" stroke="#606078"/>
<path d="M638.3,236.9 642.5,241.1 644.3,245.0 643.0,246.6 641.2,247.4 638.9,247.7 637.6,244.5 636.5,241.1 634.6,239.0 635.8,238.0Z" fill="#bcbddc" stroke="#606078"/>
<path d="M628.1,233.6 626.0,234.6 624.0,235.6 622.7,236.2 622.1,232.0 619.6,231.2 617.7,233.8 615.3,235.4 615.6,237.5 618.9,239.6 620.7,240.6 622.8,239.0 627.4,240.6 624.9,242.4 624.0,243.7 622.9,246.3 626.3,249.5 629.1,252.9 632.3,256.3 631.2,258.6 633.9,260.2 633.9,263.9 632.6,267.3 631.6,270.4 629.7,273.5 626.9,276.4 623.9,278.5 620.7,279.3 619.2,279.8 616.5,281.1 613.3,282.4 613.2,284.8 611.6,281.9 608.5,281.1 607.5,281.7 604.3,280.4 603.9,278.0 600.6,276.9 597.7,278.8 593.9,279.3 593.6,282.4 592.0,281.5 589.8,281.8 587.3,280.1 585.8,275.1 583.1,275.1 582.5,273.0 584.5,270.1 583.5,265.7 580.1,264.0 576.8,261.0 575.0,261.8 571.2,262.8 567.7,265.3 566.7,264.7 563.1,264.1 561.8,266.5 561.2,264.7 559.7,264.9 556.0,264.7 552.8,263.1 549.5,261.3 545.3,259.2 542.6,258.9 539.6,257.2 536.7,255.5 537.8,252.6 536.0,251.6 535.4,248.2 532.1,245.0 527.9,244.0 524.6,240.5 523.7,237.2 521.2,236.9 520.3,234.7 520.5,233.0 524.5,232.3 528.2,230.5 530.0,229.0 531.8,227.6 532.1,225.0 529.5,220.4 532.9,219.1 532.6,214.7 535.2,214.7 537.9,214.7 537.4,211.7 539.5,209.8 542.5,211.9 548.1,215.2 551.2,219.9 554.0,220.2 556.7,220.6 561.5,222.4 565.3,226.3 568.2,226.4 571.1,226.5 574.1,226.6 578.7,227.6 583.4,228.6 586.2,227.9 589.0,227.1 591.4,226.7 593.9,226.3 596.5,223.7 594.5,220.4 598.5,220.9 600.3,220.0 602.1,219.1 602.6,217.0 605.5,216.5 608.3,216.0 607.8,214.7 602.9,212.7 600.8,212.9 598.7,213.2 597.9,212.2 597.3,208.0 600.1,208.9 601.8,206.9 600.9,203.6 600.4,201.1 600.7,199.3 604.1,198.7 609.0,199.9 612.5,202.5 615.9,205.1 619.1,208.1 622.9,209.3 626.7,210.4 629.8,213.5 633.2,212.4 636.7,211.7 637.1,213.5 638.3,217.0 638.4,220.4 635.5,219.6 634.8,220.9 637.6,225.0 637.5,227.0 635.1,225.8 633.3,228.1 633.4,229.4 630.7,228.6 630.1,231.0Z" fill="#9e9ac8" stroke="#606078"/>
<path d="M607.5,281.7 605.1,283.8 603.6,286.9 604.2,289.5 607.1,293.4 610.4,296.0 613.1,301.3 613.8,305.2 613.4,307.8 610.2,310.4 608.3,310.7 608.1,313.0 605.2,315.1 604.3,312.3 603.2,310.7 604.6,309.4 606.6,309.1 606.2,307.6 609.7,305.2 609.4,302.3 609.1,299.4 608.8,297.4 605.9,293.4 601.8,289.0 599.2,286.9 601.0,285.3 596.9,283.2 593.9,279.3 597.7,278.8 600.6,276.9 603.9,278.0 604.3,280.4Z" fill="#dadaeb" stroke="#606078"/>
<path d="M603.2,310.7 601.2,310.2 599.6,308.3 598.7,305.3 597.7,302.3 598.9,300.8 601.4,300.6 603.9,300.4 605.7,300.2 609.1,299.4 609.4,302.3 609.7,305.2 606.2,307.6 606.6,309.1 604.6,309.4Z" fill="#bcbddc" stroke="#606078"/>
<path d="M599.6,308.3 597.6,305.7 594.7,304.7 594.3,302.8 592.9,302.8 592.4,304.4 592.4,307.0 591.1,310.4 591.5,313.6 593.7,315.7 594.6,319.1 597.0,320.1 598.5,321.7 597.8,322.7 596.2,323.0 595.7,321.6 593.8,321.0 592.3,318.8 589.9,316.2 589.2,313.0 589.8,311.7 591.7,307.0 590.6,304.9 589.1,301.8 587.6,298.7 588.4,295.3 586.5,292.4 584.6,289.5 585.5,286.1 587.8,285.4 590.1,284.7 591.3,286.9 593.1,286.9 593.2,292.1 595.4,290.3 598.3,289.8 601.7,292.4 602.3,295.0 604.1,297.1 603.9,300.4 601.4,300.6 598.9,300.8 597.7,302.3 598.7,305.3Z" fill="#9e9ac8" stroke="#606078"/>
<path d="M598.5,321.7 601.1,324.8 601.9,327.4 601.8,330.1 603.7,334.0 602.1,334.5 599.8,332.7 596.9,330.1 595.0,326.1 594.4,322.7 593.8,321.0 595.7,321.6 596.2,323.0 597.8,322.7Z" fill="#bcbddc" stroke="#606078"/>
<path d="M589.8,311.7 589.3,307.8 589.0,302.6 586.7,298.7 586.0,294.7 583.8,293.4 581.0,296.6 578.4,296.0 578.4,292.1 576.7,288.2 575.2,285.6 572.2,283.5 572.5,280.5 573.6,277.7 573.2,275.1 575.1,275.4 575.6,272.0 576.1,268.6 578.1,266.5 580.1,264.0 583.5,265.7 584.5,270.1 582.5,273.0 583.1,275.1 585.8,275.1 587.3,280.1 589.8,281.8 592.0,281.5 590.1,284.7 587.8,285.4 585.5,286.1 584.6,289.5 586.5,292.4 588.4,295.3 587.6,298.7 589.1,301.8 590.6,304.9 591.7,307.0Z" fill="#dadaeb" stroke="#606078"/>
<path d="M572.2,283.5 570.5,279.6 568.2,279.3 566.6,280.4 564.6,280.9 563.2,277.2 562.8,274.6 561.3,273.8 562.8,272.0 560.9,270.4 561.3,268.8 564.4,269.9 565.3,272.0 567.8,272.1 570.3,272.2 570.7,273.5 569.1,274.6 568.6,275.9 571.3,277.2 572.5,280.5Z" fill="#dadaeb" stroke="#606078"/>
<path d="M564.6,280.9 562.3,280.9 560.0,281.9 560.1,284.3 557.2,286.4 554.2,290.0 550.7,293.4 548.5,296.0 546.3,297.4 546.5,301.3 547.2,303.9 546.4,306.5 546.5,311.0 544.8,313.6 543.0,314.6 541.5,316.7 539.1,314.4 538.3,311.7 535.9,306.5 534.5,303.9 533.3,300.0 530.9,296.0 529.2,290.8 528.5,288.2 527.7,283.0 527.1,281.4 526.8,283.0 523.5,283.8 519.5,279.8 521.8,278.3 518.8,278.3 516.8,275.9 517.9,274.3 520.4,274.2 522.8,274.1 520.4,270.7 520.2,267.8 519.9,264.9 523.7,264.7 525.9,259.7 527.9,256.8 526.7,252.4 525.3,251.1 524.2,248.2 527.4,247.7 530.5,247.1 532.1,245.0 535.4,248.2 536.0,251.6 537.8,252.6 536.7,255.5 539.6,257.2 542.6,258.9 541.3,262.6 544.0,263.6 546.6,264.9 549.2,266.2 552.4,266.5 555.2,268.3 557.8,268.6 560.4,268.8 559.7,264.9 561.2,264.7 561.8,266.5 562.2,267.8 565.6,267.8 568.9,267.7 567.7,265.3 571.2,262.8 575.0,261.8 576.8,261.0 580.1,264.0 578.1,266.5 576.1,268.6 575.6,272.0 575.1,275.4 573.2,275.1 573.6,277.7 572.5,280.5 571.3,277.2 568.6,275.9 569.1,274.6 570.7,273.5 570.3,272.2 567.8,272.1 565.3,272.0 564.4,269.9 561.3,268.8 560.9,270.4 562.8,272.0 561.3,273.8 562.8,274.6 563.2,277.2Z" fill="#6a51a3" stroke="#606078"/>
<path d="M516.8,275.9 514.9,275.1 513.0,272.8 512.4,271.5 508.0,272.0 503.5,272.0 501.4,272.0 504.7,268.1 503.4,266.7 500.7,263.1 498.0,259.8 501.9,261.0 505.6,260.7 507.9,260.2 510.1,259.7 509.9,257.1 513.0,255.0 515.8,254.5 515.5,251.3 517.1,250.5 518.4,248.7 518.8,245.6 517.4,243.5 520.8,241.4 524.6,240.5 527.9,244.0 532.1,245.0 530.5,247.1 527.4,247.7 524.2,248.2 525.3,251.1 526.7,252.4 527.9,256.8 525.9,259.7 523.7,264.7 519.9,264.9 520.2,267.8 520.4,270.7 522.8,274.1 520.4,274.2 517.9,274.3Z" fill="#dadaeb" stroke="#606078"/>
<path d="M501.4,272.0 497.8,271.7 494.4,270.9 491.6,270.4 490.1,267.3 486.2,268.3 482.8,268.1 480.3,266.0 478.0,264.9 476.1,262.3 473.8,258.9 471.6,258.4 470.6,259.6 469.3,258.1 468.5,256.8 468.3,253.9 464.7,251.8 463.6,250.3 462.4,248.2 463.6,245.8 461.5,243.7 459.7,240.7 458.1,237.5 457.2,235.9 457.8,234.9 458.6,234.1 460.4,235.9 462.6,236.2 464.9,234.1 466.2,234.9 465.8,236.4 467.9,237.3 468.6,239.6 471.5,240.1 474.4,241.9 477.5,241.4 479.2,240.2 482.4,238.8 485.9,238.0 488.3,238.9 490.8,239.8 495.2,242.2 496.0,244.8 495.5,249.0 496.4,252.2 497.2,255.5 499.2,255.8 498.0,259.8 500.7,263.1 503.4,266.7 504.7,268.1Z" fill="#bcbddc" stroke="#606078"/>
<path d="M470.6,259.6 469.5,259.4 468.1,259.2 466.6,261.8 462.4,261.5 459.1,259.0 455.8,256.5 452.1,254.5 449.3,253.8 448.1,250.5 450.3,249.2 452.5,247.9 452.6,245.0 452.6,242.4 454.4,240.9 456.9,240.5 459.7,240.7 461.5,243.7 463.6,245.8 462.4,248.2 463.6,250.3 464.7,251.8 468.3,253.9 468.5,256.8 469.3,258.1Z" fill="#6a51a3" stroke="#606078"/>
<path d="M469.5,259.4 469.9,261.3 470.8,263.2 469.3,263.2 468.7,262.0 466.6,261.8 468.1,259.2Z" fill="#dadaeb" stroke="#606078"/>
<path d="M470.8,263.2 472.5,266.0 475.0,268.1 475.7,270.7 477.3,273.2 478.2,273.5 479.2,274.6 479.2,274.9 481.8,277.9 484.7,278.2 487.7,278.5 488.9,280.4 487.8,285.6 484.5,286.9 481.2,288.2 477.8,288.7 474.5,289.2 472.7,290.3 470.2,293.4 468.8,292.9 466.0,292.4 463.3,292.4 461.7,292.1 461.6,294.2 460.7,295.0 458.7,291.3 456.1,286.9 451.7,281.7 449.8,276.4 446.6,272.5 444.8,268.6 441.6,264.7 440.2,264.4 440.6,261.3 440.8,261.3 443.1,261.5 446.2,259.4 447.2,258.1 444.7,255.5 447.0,254.6 449.3,253.8 452.1,254.5 455.8,256.5 459.1,259.0 462.4,261.5 466.6,261.8 468.7,262.0 469.3,263.2Z" fill="#9e9ac8" stroke="#606078"/>
<path d="M477.3,273.2 477.1,271.2 477.8,269.6 479.0,272.0 478.2,273.5Z" fill="#807dba" stroke="#606078"/>
<path d="M479.2,274.6 481.5,274.6 484.6,274.9 485.7,273.8 487.3,271.7 488.8,269.9 489.4,268.8 489.6,270.9 489.8,272.8 488.9,272.8 488.7,275.1 487.7,278.5 484.7,278.2 481.8,277.9 479.2,274.9Z" fill="#bcbddc" stroke="#606078"/>
<path d="M489.8,272.8 491.4,275.1 495.1,276.2 498.1,279.0 496.3,284.3 494.4,288.2 491.7,290.8 488.8,292.1 486.2,293.4 484.2,294.3 482.7,291.3 481.2,288.2 484.5,286.9 487.8,285.6 488.9,280.4 487.7,278.5 488.7,275.1 488.9,272.8Z" fill="#807dba" stroke="#606078"/>
<path d="M484.2,294.3 482.3,297.1 479.9,297.9 477.4,298.7 474.6,301.3 470.7,302.8 466.2,304.4 462.8,304.7 462.0,303.1 460.9,298.7 460.7,295.0 461.6,294.2 461.7,292.1 463.3,292.4 466.0,292.4 468.8,292.9 470.2,293.4 472.7,290.3 474.5,289.2 477.8,288.7 481.2,288.2 482.7,291.3Z" fill="#807dba" stroke="#606078"/>
<path d="M440.6,261.3 440.8,260.6 440.8,261.3Z" fill="#bcbddc" stroke="#606078"/>
<path d="M440.8,260.6 440.5,260.7 438.5,256.0 439.5,254.2 440.0,251.3 441.5,250.7 441.4,252.4 441.4,254.7 441.2,256.3Z" fill="#9e9ac8" stroke="#606078"/>
<path d="M440.0,251.3 440.7,249.2 441.5,247.3 442.5,247.4 443.0,248.4 441.9,250.0 441.5,250.7Z" fill="#807dba" stroke="#606078"/>
<path d="M441.5,247.3 440.7,244.3 440.9,244.0 441.9,243.2 442.3,241.6 444.1,241.9 447.4,241.9 450.9,240.9 454.4,240.9 452.6,242.4 452.6,245.0 452.5,247.9 450.3,249.2 448.1,250.5 444.0,253.4 441.4,252.4 441.5,250.7 441.9,250.0 443.0,248.4 442.5,247.4Z" fill="#9e9ac8" stroke="#606078"/>
<path d="M440.9,244.0 441.1,242.2 439.8,242.2 437.8,241.6 435.6,243.5 433.5,243.5 430.0,241.6 428.9,242.9 426.9,243.2 424.6,241.9 422.4,241.1 421.5,238.8 419.9,237.2 420.3,235.1 418.9,234.6 418.8,233.0 421.4,232.0 424.1,231.6 425.4,231.2 424.4,230.7 422.3,230.7 420.9,231.1 419.9,231.9 418.4,231.7 418.3,231.4 419.3,229.9 418.6,228.9 420.5,227.9 422.0,228.1 424.6,230.2 426.9,230.3 429.6,229.9 433.6,228.1 436.7,228.1 439.8,229.9 443.5,230.7 447.7,230.7 450.8,229.4 453.4,229.4 455.0,230.5 456.0,232.8 458.6,234.1 457.8,234.9 457.2,235.9 458.1,237.5 459.7,240.7 456.9,240.5 454.4,240.9 450.9,240.9 447.4,241.9 444.1,241.9 442.3,241.6 441.9,243.2Z" fill="#9e9ac8" stroke="#606078"/>
<path d="M418.3,231.4 416.0,231.0 413.9,231.5 414.7,232.8 411.9,232.5 411.2,232.0 411.1,233.3 412.8,235.4 412.3,236.4 414.6,238.0 414.7,239.3 413.5,238.5 412.5,238.8 413.0,240.3 413.0,242.4 411.5,242.4 409.9,241.6 408.6,239.0 409.0,238.0 408.1,237.5 407.3,236.2 405.7,234.1 407.1,233.0 407.4,231.1 409.4,230.5 411.5,229.8 414.8,229.4 418.6,228.9 419.3,229.9Z" fill="#dadaeb" stroke="#606078"/>
<path d="M405.7,234.1 404.3,232.5 404.2,229.4 403.8,228.5 404.2,226.7 405.1,226.7 406.4,228.4 406.4,229.9 407.4,231.1 407.1,233.0Z" fill="#dadaeb" stroke="#606078"/>
<path d="M403.8,228.5 401.8,227.0 401.8,226.7 402.1,225.0 403.1,224.2 405.7,225.9 405.1,226.7 404.2,226.7Z" fill="#dadaeb" stroke="#606078"/>
<path d="M401.8,227.0 399.9,225.8 397.5,224.2 394.6,222.4 393.9,220.4 392.6,219.6 391.8,220.9 391.1,219.3 391.2,219.1 392.9,219.1 394.6,219.1 395.1,217.3 396.9,216.5 399.0,217.9 401.9,218.1 402.5,219.9 402.4,220.6 400.3,220.1 398.0,219.9 395.7,219.9 395.8,221.1 396.7,222.4 398.9,224.2 400.0,225.5 401.8,226.7Z" fill="#dadaeb" stroke="#606078"/>
<path d="M391.1,219.3 391.1,219.1 391.2,219.1Z" fill="#bcbddc" stroke="#606078"/>
<path d="M391.1,219.1 391.4,218.8 391.2,219.1Z" fill="#bcbddc" stroke="#606078"/>
<path d="M391.4,218.8 390.0,218.6 388.4,219.6 388.5,221.7 389.2,222.9 391.4,224.2 392.8,226.8 394.6,228.1 397.2,228.4 396.6,229.4 399.0,230.5 401.2,231.7 402.4,233.0 402.0,233.8 399.6,232.3 398.3,233.0 398.2,234.1 399.6,235.9 398.4,236.7 397.6,238.8 396.7,238.5 396.7,237.7 397.7,235.9 396.6,233.3 394.9,232.8 393.6,231.7 392.7,231.0 390.5,230.2 388.7,228.6 386.1,227.1 385.0,225.5 384.5,224.2 383.4,222.7 381.5,221.9 380.1,223.2 378.6,223.5 379.0,222.4 377.3,221.9 377.5,219.9 377.0,218.3 377.5,218.1 379.3,217.8 380.2,216.8 381.5,218.2 382.1,216.7 383.8,217.2 384.4,215.5 385.9,215.4 388.0,215.1 388.4,216.0 391.1,216.5 390.5,217.3 391.0,218.1Z" fill="#dadaeb" stroke="#606078"/>
<path d="M422.7,223.6 421.4,225.0 420.8,226.8 422.0,228.1 420.5,227.9 418.6,228.9 414.8,229.4 411.5,229.8 410.0,227.3 410.2,225.8 411.1,225.0 409.7,223.5 410.1,222.4 411.0,223.5 413.6,223.7 416.2,223.9 419.2,222.7Z" fill="#bcbddc" stroke="#606078"/>
<path d="M424.3,219.5 424.3,220.4 422.7,222.2 422.7,223.6 419.2,222.7 416.2,223.9 413.6,223.7 411.0,223.5 410.1,222.4 408.9,221.7 407.4,220.9 407.5,219.9 404.7,217.5 406.4,217.2 407.2,215.2 409.5,212.7 413.7,213.5 417.0,212.1 419.4,214.5 420.7,216.8 421.2,219.2Z" fill="#dadaeb" stroke="#606078"/>
<path d="M441.1,215.0 439.9,215.0 438.4,216.0 435.5,216.8 434.6,217.5 435.2,218.6 438.5,219.6 436.3,220.4 433.7,221.9 432.5,221.4 430.1,219.3 432.1,217.5 430.9,217.5 428.7,217.0 427.6,216.3 426.0,216.8 424.3,219.5 421.2,219.2 422.6,217.8 424.8,216.8 424.2,215.8 422.2,212.9 419.3,211.4 417.0,212.1 413.7,213.5 409.5,212.7 407.9,211.7 408.5,209.9 408.7,208.6 411.1,206.1 409.8,203.8 412.4,202.8 415.0,203.3 417.6,203.8 421.2,204.1 423.8,204.3 425.8,202.3 429.6,201.7 433.5,205.1 434.2,206.6 436.7,207.2 439.3,207.9 441.5,208.2 443.6,208.6 443.6,211.2 444.0,212.9Z" fill="#dadaeb" stroke="#606078"/>
<path d="M450.8,229.4 450.6,227.9 448.9,225.5 446.6,224.5 449.3,224.8 451.9,225.0 455.0,226.6 457.4,226.3 460.8,228.4 460.8,230.2 458.2,229.9 455.0,230.5 453.4,229.4Z" fill="#9e9ac8" stroke="#606078"/>
<path d="M479.2,240.2 478.1,235.9 476.2,234.6 476.6,232.0 474.7,230.2 473.7,228.8 476.0,228.4 478.3,228.1 481.4,229.9 483.6,229.9 486.0,226.3 489.3,227.6 490.1,229.7 494.1,230.5 496.1,233.3 501.1,236.2 506.4,240.2 502.9,240.9 499.7,244.0 496.0,244.8 495.2,242.2 490.8,239.8 488.3,238.9 485.9,238.0 482.4,238.8Z" fill="#bcbddc" stroke="#606078"/>
<path d="M473.7,228.8 473.2,226.3 470.2,225.0 468.8,222.2 467.4,221.4 469.0,219.6 472.6,219.6 471.5,215.5 467.7,215.0 464.4,216.5 462.5,216.3 458.5,212.7 457.3,211.7 458.4,209.6 456.9,207.9 460.3,207.6 460.5,206.1 463.6,203.3 466.5,203.8 469.3,204.3 472.7,205.6 476.2,205.3 479.7,205.1 482.6,205.1 485.5,205.1 483.1,201.3 481.8,197.8 485.4,197.2 489.0,196.6 492.4,195.5 495.8,194.4 499.8,194.6 501.3,197.1 503.6,197.3 506.0,197.6 509.0,197.2 512.0,196.8 515.4,199.3 518.9,202.3 522.4,205.3 525.7,205.2 529.1,205.1 534.3,208.6 536.9,209.2 539.5,209.8 537.4,211.7 537.9,214.7 535.2,214.7 532.6,214.7 532.9,219.1 529.5,220.4 532.1,225.0 531.8,227.6 528.9,226.0 525.4,226.0 521.8,226.0 518.3,225.0 517.4,226.8 514.9,227.1 512.4,227.3 512.3,227.5 508.9,229.9 507.1,230.7 503.2,228.4 501.3,225.5 497.5,224.4 493.6,223.3 489.9,222.2 486.8,220.6 483.8,219.1 481.3,219.6 478.9,220.1 480.2,225.0 481.4,229.9 478.3,228.1 476.0,228.4Z" fill="#bcbddc" stroke="#606078"/>
<path d="M465.4,228.5 467.2,230.5 470.1,232.3 468.3,232.8 468.4,235.1 467.9,237.3 465.8,236.4 466.2,234.9 464.9,234.1 462.6,236.2 462.3,234.6 460.9,232.8 459.8,231.7 458.2,229.9 460.8,230.2 460.8,228.4 463.0,229.9 464.4,230.2Z" fill="#dadaeb" stroke="#606078"/>
<path d="M377.5,218.1 377.0,216.8 375.5,217.3 375.5,216.5 377.3,214.2 378.5,213.7 380.5,213.5 382.6,213.8 382.6,215.0 384.4,215.5 383.8,217.2 382.1,216.7 381.5,218.2 380.2,216.8 379.3,217.8Z" fill="#9e9ac8" stroke="#606078"/>
<path d="M390.9,210.8 388.1,208.1 387.4,206.9 389.0,206.6 391.5,205.1 392.5,205.5 393.7,205.6 395.5,206.0 396.8,206.9 398.4,206.9 400.9,208.9 399.5,209.9 397.8,210.5 397.3,211.2 395.1,210.5 393.3,210.1 392.8,211.2Z" fill="#bcbddc" stroke="#606078"/>
<path d="M382.6,213.8 383.8,214.2 385.4,214.2 387.9,213.7 389.3,213.5 389.4,211.9 390.9,210.8 392.8,211.2 393.3,210.1 395.1,210.5 397.3,211.2 397.9,212.7 397.8,213.5 396.7,214.2 396.0,215.6 395.0,216.0 393.0,216.8 391.1,216.5 388.4,216.0 388.0,215.1 385.9,215.4 384.4,215.5 382.6,215.0Z" fill="#9e9ac8" stroke="#606078"/>
<path d="M391.4,218.8 391.0,218.1 390.5,217.3 391.1,216.5 393.0,216.8 395.0,216.0 396.0,215.6 396.9,216.5 395.1,217.3 394.6,219.1 392.9,219.1 391.2,219.1Z" fill="#dadaeb" stroke="#606078"/>
<path d="M396.0,215.6 396.7,214.2 397.8,213.5 397.9,212.7 401.1,213.2 403.0,212.2 404.5,211.4 407.0,211.8 407.9,211.7 409.5,212.7 407.2,215.2 406.4,217.2 404.7,217.5 401.9,218.1 399.0,217.9 396.9,216.5Z" fill="#9e9ac8" stroke="#606078"/>
<path d="M397.9,212.7 397.3,211.2 397.8,210.5 399.5,209.9 400.9,208.9 402.2,208.8 403.5,209.6 406.1,209.1 408.5,209.9 407.9,211.7 407.0,211.8 404.5,211.4 403.0,212.2 401.1,213.2Z" fill="#f2f0f7" stroke="#606078"/>
<path d="M409.8,203.8 409.4,202.3 410.0,200.8 408.7,197.7 410.5,197.8 412.7,197.1 412.8,195.3 414.0,194.6 414.0,193.4 416.9,192.3 420.5,193.0 422.7,194.4 422.5,195.6 426.9,199.1 424.5,199.6 425.8,202.3 423.8,204.3 421.2,204.1 417.6,203.8 415.0,203.3 412.4,202.8Z" fill="#dadaeb" stroke="#606078"/>
<path d="M417.0,212.1 419.3,211.4 422.2,212.9 424.2,215.8 424.8,216.8 422.6,217.8 421.2,219.2 420.7,216.8 419.4,214.5Z" fill="#dadaeb" stroke="#606078"/>
<path d="M401.9,218.1 404.7,217.5 407.5,219.9 407.4,220.9 408.9,221.7 410.1,222.4 409.7,223.5 411.1,225.0 410.2,225.8 410.0,227.3 408.3,227.5 407.9,225.9 406.5,224.9 405.7,225.9 403.1,224.2 403.3,222.2 402.4,220.6 402.5,219.9Z" fill="#dadaeb" stroke="#606078"/>
<path d="M401.8,226.7 400.0,225.5 398.9,224.2 396.7,222.4 395.8,221.1 395.7,219.9 398.0,219.9 400.3,220.1 402.4,220.6 403.3,222.2 403.1,224.2 402.1,225.0Z" fill="#dadaeb" stroke="#606078"/>
<path d="M405.1,226.7 405.7,225.9 406.5,224.9 407.9,225.9 408.3,227.5 406.4,228.4Z" fill="#dadaeb" stroke="#606078"/>
<path d="M406.4,228.4 408.3,227.5 410.0,227.3 411.5,229.8 409.4,230.5 407.4,231.1 406.4,229.9Z" fill="#dadaeb" stroke="#606078"/>
<path d="M458.6,234.1 456.0,232.8 455.0,230.5 458.2,229.9 459.8,231.7 460.9,232.8 462.3,234.6 462.6,236.2 460.4,235.9Z" fill="#dadaeb" stroke="#606078"/>
<path d="M441.4,252.4 444.0,253.4 448.1,250.5 449.3,253.8 447.0,254.6 444.7,255.5 447.2,258.1 446.2,259.4 443.1,261.5 440.8,261.3 440.8,260.6 441.2,256.3 441.4,254.7Z" fill="#bcbddc" stroke="#606078"/>
<path d="M512.3,227.5 512.4,227.3 514.9,227.1 517.4,226.8 518.3,225.0 521.8,226.0 525.4,226.0 528.9,226.0 531.8,227.6 530.0,229.0 528.2,230.5 524.5,232.3 520.5,233.0 520.3,234.7 516.7,234.0 513.1,233.3 515.7,232.8 518.0,231.2 515.4,230.2 513.1,229.7 511.3,229.4Z" fill="#dadaeb" stroke="#606078"/>
<path d="M481.4,229.9 480.2,225.0 478.9,220.1 481.3,219.6 483.8,219.1 486.8,220.6 489.9,222.2 493.6,223.3 497.5,224.4 501.3,225.5 503.2,228.4 507.1,230.7 508.9,229.9 512.3,227.5 511.3,229.4 513.1,229.7 515.4,230.2 518.0,231.2 515.7,232.8 513.1,233.3 509.9,233.0 507.7,234.6 509.7,237.7 509.3,240.6 506.4,240.2 501.1,236.2 496.1,233.3 494.1,230.5 490.1,229.7 489.3,227.6 486.0,226.3 483.6,229.9Z" fill="#bcbddc" stroke="#606078"/>
<path d="M496.0,244.8 499.7,244.0 502.9,240.9 506.4,240.2 509.3,240.6 509.9,241.1 512.6,240.9 514.2,239.6 515.2,237.5 517.0,238.8 517.6,241.9 519.6,241.1 522.1,240.8 524.6,240.5 520.8,241.4 517.4,243.5 518.8,245.6 518.4,248.7 517.1,250.5 515.5,251.3 515.8,254.5 513.0,255.0 509.9,257.1 510.1,259.7 507.9,260.2 505.6,260.7 501.9,261.0 498.0,259.8 499.2,255.8 497.2,255.5 496.4,252.2 495.5,249.0Z" fill="#dadaeb" stroke="#606078"/>
<path d="M524.6,240.5 522.1,240.8 519.6,241.1 517.6,241.9 517.0,238.8 515.2,237.5 514.2,239.6 512.6,240.9 509.9,241.1 509.3,240.6 509.7,237.7 507.7,234.6 509.9,233.0 513.1,233.3 516.7,234.0 520.3,234.7 521.2,236.9 523.7,237.2Z" fill="#dadaeb" stroke="#606078"/>
<path d="M559.7,264.9 560.4,268.8 557.8,268.6 555.2,268.3 552.4,266.5 549.2,266.2 546.6,264.9 544.0,263.6 541.3,262.6 542.6,258.9 545.3,259.2 549.5,261.3 552.8,263.1 556.0,264.7Z" fill="#dadaeb" stroke="#606078"/>
<path d="M561.8,266.5 563.1,264.1 566.7,264.7 567.7,265.3 568.9,267.7 565.6,267.8 562.2,267.8Z" fill="#dadaeb" stroke="#606078"/>
<path d="M590.1,284.7 592.0,281.5 593.6,282.4 593.9,279.3 596.9,283.2 601.0,285.3 599.2,286.9 601.8,289.0 605.9,293.4 608.8,297.4 609.1,299.4 605.7,300.2 603.9,300.4 604.1,297.1 602.3,295.0 601.7,292.4 598.3,289.8 595.4,290.3 593.2,292.1 593.1,286.9 591.3,286.9Z" fill="#bcbddc" stroke="#606078"/>
<path d="M597.3,208.0 597.9,212.2 598.7,213.2 600.8,212.9 602.9,212.7 607.8,214.7 608.3,216.0 605.5,216.5 602.6,217.0 602.1,219.1 600.3,220.0 598.5,220.9 594.5,220.4 596.5,223.7 593.9,226.3 591.4,226.7 589.0,227.1 586.2,227.9 583.4,228.6 578.7,227.6 574.1,226.6 571.1,226.5 568.2,226.4 565.3,226.3 561.5,222.4 556.7,220.6 554.0,220.2 551.2,219.9 548.1,215.2 542.5,211.9 539.5,209.8 541.3,208.9 543.1,208.1 545.3,206.9 547.5,205.6 551.5,206.3 554.9,207.2 558.4,208.1 559.4,206.3 557.0,202.8 558.5,202.3 562.3,203.3 566.0,204.3 567.3,206.1 570.4,206.3 573.6,206.6 577.3,207.1 581.5,209.1 584.0,209.4 586.4,209.6 588.4,209.1 590.3,208.6 592.3,207.1 594.8,207.5Z" fill="#dadaeb" stroke="#606078"/>
<path d="M614.9,337.1 614.8,334.0 616.3,332.5 616.9,334.0 618.5,335.5 621.3,335.3 622.2,334.0 625.7,334.5 627.7,334.0 628.4,331.9 629.0,330.3 629.9,328.7 629.8,326.9 631.9,326.4 634.5,327.0 635.0,328.7 634.4,331.4 635.6,332.1 637.9,335.3 635.2,335.8 634.5,337.9 633.3,340.5 632.1,343.1 631.3,347.1 630.8,348.4 627.8,348.6 627.4,346.8 623.9,346.3 621.1,347.1 617.5,345.5 617.1,341.8 615.5,340.0Z" fill="#dadaeb" stroke="#606078"/>
<path d="M616.3,332.5 617.8,333.5 620.1,331.6 620.3,330.3 623.9,329.5 626.1,326.1 629.5,324.8 630.5,322.2 632.0,319.6 633.9,320.6 634.5,322.2 638.0,324.0 636.0,325.6 635.4,326.7 634.5,327.0 631.9,326.4 629.8,326.9 629.9,328.7 629.0,330.3 628.4,331.9 627.7,334.0 625.7,334.5 622.2,334.0 621.3,335.3 618.5,335.5 616.9,334.0Z" fill="#bcbddc" stroke="#606078"/>
<path d="M665.7,340.0 669.2,338.9 672.6,340.0 673.6,344.4 675.9,346.5 679.5,343.1 681.8,342.1 685.2,343.7 688.6,344.7 688.5,349.0 688.2,353.2 687.9,357.5 687.6,361.7 684.3,359.4 680.8,359.6 682.9,356.2 681.4,352.3 678.0,349.9 674.6,349.1 671.2,347.8 669.6,348.4 667.8,345.2 672.0,343.9 667.9,343.7 665.6,341.6Z" fill="#dadaeb" stroke="#606078"/>
<path d="M688.6,344.7 692.1,346.3 696.6,347.8 699.4,351.5 703.2,353.6 701.9,355.7 703.9,358.8 707.0,362.8 709.8,364.8 706.8,364.8 702.3,364.1 701.5,362.5 699.3,359.4 696.0,357.8 693.5,360.1 692.1,362.0 687.6,361.7 687.9,357.5 688.2,353.2 688.5,349.0Z" fill="#bcbddc" stroke="#606078"/>
<path d="M193.7,289.8 196.9,289.5 198.3,289.5 197.6,287.2 196.4,286.1 199.6,285.8 200.2,286.4 200.0,288.5 199.2,289.2 199.6,290.7 198.0,290.3 195.0,290.7Z" fill="#9e9ac8" stroke="#606078"/>
<path d="M200.2,286.4 203.0,285.8 204.2,286.6 205.7,287.7 207.4,289.2 206.0,289.8 203.7,289.8 202.1,290.0 200.3,291.6 199.6,290.7 199.2,289.2 200.0,288.5Z" fill="#dadaeb" stroke="#606078"/>
<path d="M343.6,203.8 342.7,202.3 344.3,200.8 343.5,198.8 343.6,197.1 346.5,196.6 346.4,195.1 348.8,194.4 349.0,194.4 348.7,195.1 347.7,196.1 348.4,197.2 350.2,197.5 351.3,197.6 351.3,197.6 350.9,199.3 350.8,201.8 348.2,202.6 346.2,203.3Z" fill="#dadaeb" stroke="#606078"/>
<path d="M349.0,194.4 351.2,194.6 352.2,196.1 351.3,197.6 350.2,197.5 348.4,197.2 347.7,196.1 348.7,195.1Z" fill="#dadaeb" stroke="#606078"/>
<path d="M318.4,133.9 321.0,134.1 323.7,134.2 326.3,134.3 329.0,134.5 331.0,135.1 333.1,135.7 335.2,136.3 338.0,136.5 340.7,136.8 343.4,137.0 346.2,137.2 343.7,138.0 341.2,138.8 338.6,139.7 335.0,142.5 334.9,146.4 331.9,149.4 332.2,151.4 330.0,152.5 327.8,153.5 327.4,155.6 326.7,158.9 324.0,160.0 321.2,161.1 317.4,163.3 313.9,163.8 310.3,164.4 307.3,166.1 304.3,167.8 301.0,168.7 297.7,169.6 295.2,170.4 292.8,171.2 289.5,175.8 285.7,179.4 282.7,182.9 279.3,182.2 277.3,181.4 275.3,180.5 272.9,177.0 271.6,173.5 271.3,170.0 271.1,166.6 273.4,163.3 277.8,161.1 275.1,160.5 272.5,160.0 273.6,157.8 273.6,154.6 273.8,151.4 273.4,148.4 270.8,147.7 268.3,147.0 265.1,147.2 261.9,147.4 260.0,146.9 258.1,146.4 257.0,145.4 256.0,144.4 255.0,143.0 258.7,142.3 262.3,141.5 265.1,140.8 267.9,140.1 270.5,138.8 274.1,138.0 277.6,137.2 280.8,136.7 283.9,136.3 287.0,135.9 289.9,135.7 292.8,135.6 295.6,135.4 298.5,135.2 301.0,135.0 303.6,134.8 306.1,134.6 308.6,134.3 311.1,134.2 313.5,134.1 315.9,134.0Z" fill="#bcbddc" stroke="#606078"/>
<path d="M320.6,170.0 324.1,168.0 326.3,170.0 328.6,169.3 330.9,168.7 333.1,168.2 335.4,167.8 337.5,168.9 339.1,171.2 336.5,172.8 333.2,173.8 330.0,174.9 326.5,174.4 324.7,174.1 322.9,173.7 324.2,172.3 320.8,171.4 324.5,170.5 322.5,170.3Z" fill="#f2f0f7" stroke="#606078"/>
<path d="M351.8,207.4 354.6,204.6 357.0,204.3 354.9,203.7 352.7,203.1 354.8,200.6 354.2,199.1 357.1,199.1 357.2,196.3 356.2,195.3 353.3,195.6 353.8,193.4 352.0,194.1 352.0,191.4 351.3,189.0 353.7,186.3 357.2,186.3 355.5,188.5 359.2,188.7 358.8,190.9 356.9,192.6 359.7,193.9 360.5,195.8 362.6,197.3 363.4,199.6 364.0,200.3 366.3,200.8 365.8,202.8 364.4,203.8 365.8,204.6 363.6,205.6 360.6,205.8 357.0,206.1 355.6,206.9Z" fill="#dadaeb" stroke="#606078"/>
<path d="M378.9,140.6 381.3,140.3 383.6,140.0 386.0,139.7 388.8,139.5 391.6,139.2 394.4,139.2 397.3,139.2 399.5,139.5 401.8,139.7 399.3,141.0 396.6,141.5 393.8,142.1 395.9,144.4 393.6,145.0 391.2,145.6 388.8,146.2 386.4,145.3 384.0,144.4 380.7,142.5Z" fill="#dadaeb" stroke="#606078"/>
<path d="M447.5,157.8 450.3,158.4 453.6,158.4 456.9,158.4 453.2,154.6 451.4,152.9 453.1,150.4 455.0,149.1 456.8,147.8 458.8,147.1 460.9,146.4 462.9,145.8 464.7,145.7 466.5,145.6 464.3,146.2 462.1,146.8 460.1,147.4 458.0,148.1 455.9,148.8 453.5,149.8 451.0,150.8 449.4,153.5 448.9,155.6 447.0,156.7Z" fill="url(#hatch)" stroke="#cfcfcf"/>
<path d="M501.7,141.5 502.6,140.3 503.4,139.1 504.2,138.0 507.7,138.8 511.4,139.7 515.0,140.6 515.1,142.8 512.5,143.1 509.9,143.4 505.8,142.5Z" fill="url(#hatch)" stroke="#cfcfcf"/>
<path d="M574.5,148.4 577.1,148.0 579.6,147.7 582.1,147.4 585.4,147.7 588.7,148.1 592.0,148.4 595.3,148.8 593.1,149.3 590.8,149.8 587.8,149.9 584.8,149.9 581.7,150.0 578.1,149.2Z" fill="url(#hatch)" stroke="#cfcfcf"/>
<path d="M60.2,162.4 61.6,163.1 62.9,163.9 63.4,165.3 64.0,166.6 65.9,166.8 67.7,167.1 68.4,168.7 64.4,170.0 58.6,172.3 56.2,172.8 54.3,171.6 53.9,170.0 49.8,170.5 47.0,171.2 53.6,166.7Z" fill="url(#hatch)" stroke="#cfcfcf"/>
<path d="M638.6,196.8 642.3,198.8 647.3,203.8 651.6,207.4 655.8,210.9 651.4,209.6 654.2,214.0 657.8,217.0 655.1,216.0 655.5,218.1 652.4,214.0 648.8,208.9 644.7,203.8 640.2,199.3Z" fill="url(#hatch)" stroke="#cfcfcf"/>
<path d="M658.8,229.4 659.3,226.8 656.6,225.0 658.6,224.8 657.2,222.0 655.7,219.3 660.0,221.7 662.6,221.9 665.2,222.2 667.3,224.8 664.9,225.8 664.9,228.1 660.3,226.8 660.6,228.9Z" fill="#dadaeb" stroke="#606078"/>
<path d="M660.7,229.4 663.6,232.0 666.2,234.6 666.2,238.5 667.6,241.6 668.8,244.5 667.5,246.3 666.7,245.0 665.8,247.4 661.9,247.4 662.1,248.2 660.6,250.3 658.1,248.2 655.8,248.2 653.5,248.2 649.5,249.0 649.8,247.1 651.5,245.0 655.3,244.8 658.4,244.5 658.1,240.3 659.2,241.6 661.8,240.3 662.5,238.0 661.4,233.8 660.2,231.7 659.9,230.2Z" fill="#dadaeb" stroke="#606078"/>
<path d="M653.3,250.3 654.7,248.4 657.1,248.4 657.8,249.5 657.4,251.1 655.2,250.5 655.3,252.4 653.7,251.6Z" fill="#dadaeb" stroke="#606078"/>
<path d="M649.4,249.2 651.5,250.0 653.0,252.1 653.1,255.8 652.0,256.8 650.5,255.8 649.3,252.6 647.7,251.6 647.4,250.3 648.5,249.7Z" fill="#dadaeb" stroke="#606078"/>
<path d="M636.0,271.7 637.3,272.5 637.0,275.1 636.4,280.4 634.1,277.7 634.1,275.1 635.1,272.5Z" fill="#bcbddc" stroke="#606078"/>
<path d="M610.0,287.4 611.5,285.6 614.4,285.3 615.1,286.6 614.1,289.0 612.3,290.3 610.3,289.2Z" fill="#9e9ac8" stroke="#606078"/>
<path d="M546.8,312.3 547.8,313.0 550.0,315.7 551.8,318.8 551.4,320.9 548.9,322.5 547.5,321.4 546.9,318.3 546.8,315.7 547.3,313.6Z" fill="#bcbddc" stroke="#606078"/>
<path d="M637.4,289.5 641.1,289.5 642.0,293.4 640.8,296.0 641.3,299.2 643.5,300.8 646.9,301.8 647.7,304.9 645.8,303.9 643.7,302.3 642.0,301.5 639.5,301.8 639.1,300.0 637.8,299.2 636.6,295.5 637.8,294.5 637.4,292.1Z" fill="#bcbddc" stroke="#606078"/>
<path d="M644.2,319.6 644.7,317.0 647.1,315.4 649.7,315.7 651.5,312.5 653.8,315.7 654.8,318.8 654.0,321.4 652.3,323.3 651.7,321.7 649.4,321.7 648.8,318.5 646.9,318.3 646.0,318.8Z" fill="#bcbddc" stroke="#606078"/>
<path d="M648.2,305.2 650.5,305.2 651.8,308.6 650.9,311.2 650.0,311.5 648.8,308.6Z" fill="#bcbddc" stroke="#606078"/>
<path d="M642.9,307.0 645.8,307.8 648.0,309.1 647.2,313.0 646.1,314.1 644.6,312.3 644.9,310.4 643.3,310.4Z" fill="#bcbddc" stroke="#606078"/>
<path d="M632.9,315.9 635.3,313.2 637.7,310.4 638.0,308.3 637.0,309.4 633.4,313.8Z" fill="#bcbddc" stroke="#606078"/>
<path d="M639.0,302.8 641.1,302.8 641.8,305.2 640.7,306.0 639.6,304.4Z" fill="#bcbddc" stroke="#606078"/>
<path d="M582.8,323.3 585.4,323.8 588.0,324.3 589.9,326.9 593.5,330.1 595.8,332.1 599.1,334.2 602.1,336.6 602.8,339.2 604.4,342.6 607.8,345.7 607.4,349.7 607.0,353.1 604.3,353.1 603.0,351.0 599.2,348.4 596.3,344.4 595.0,340.5 591.8,336.6 591.0,333.5 587.5,330.1 584.6,327.4 582.6,323.8Z" fill="#dadaeb" stroke="#606078"/>
<path d="M605.5,355.7 607.5,353.3 609.8,353.6 613.2,354.9 617.7,355.9 618.9,354.9 622.8,355.9 626.8,358.0 626.7,360.4 622.5,359.9 618.7,359.4 614.1,358.0 611.2,358.0 608.2,357.0Z" fill="#dadaeb" stroke="#606078"/>
<path d="M627.0,359.1 629.3,359.4 628.9,360.9 627.6,360.4Z" fill="#dadaeb" stroke="#606078"/>
<path d="M630.2,359.6 631.8,359.6 631.4,361.2 630.1,360.9Z" fill="#dadaeb" stroke="#606078"/>
<path d="M632.0,359.9 634.8,359.4 637.1,359.9 637.0,360.9 634.2,361.2 631.9,361.4Z" fill="#dadaeb" stroke="#606078"/>
<path d="M638.9,359.9 641.7,359.9 646.1,359.4 646.2,360.1 642.7,361.2 639.0,360.9Z" fill="#dadaeb" stroke="#606078"/>
<path d="M636.8,362.8 639.2,362.5 640.9,364.1 638.9,364.8 636.8,363.5Z" fill="#dadaeb" stroke="#606078"/>
<path d="M647.0,364.8 649.5,362.2 650.7,361.4 650.9,362.8 649.1,364.6Z" fill="#dadaeb" stroke="#606078"/>
<path d="M650.7,361.4 654.3,359.9 656.2,359.9 654.2,361.4 650.9,362.8Z" fill="#dadaeb" stroke="#606078"/>
<path d="M638.7,352.3 638.7,347.1 637.4,345.2 638.9,340.5 639.8,337.9 640.3,335.8 642.3,334.5 646.0,335.3 649.5,335.3 652.2,333.7 650.7,336.6 647.2,336.6 643.7,336.6 641.4,336.9 640.5,340.0 643.3,340.3 646.0,340.0 648.1,340.5 646.0,342.1 643.9,342.9 645.2,345.7 646.9,348.4 647.2,351.8 645.6,351.8 643.6,350.2 643.1,347.1 642.4,345.0 641.0,345.7 640.9,350.5 640.7,352.5Z" fill="#dadaeb" stroke="#606078"/>
<path d="M657.5,332.7 658.7,334.0 660.3,334.8 658.8,336.6 659.9,339.7 658.3,338.7 657.6,335.8Z" fill="#dadaeb" stroke="#606078"/>
<path d="M658.6,346.3 661.8,346.3 665.0,346.3 663.1,347.6 659.7,347.1Z" fill="#dadaeb" stroke="#606078"/>
<path d="M653.9,346.5 656.3,346.3 656.2,347.8 654.4,347.6Z" fill="#dadaeb" stroke="#606078"/>
<path d="M705.1,352.8 709.1,351.0 712.7,348.9 714.6,348.9 713.7,351.8 710.1,354.1 706.6,354.1Z" fill="#bcbddc" stroke="#606078"/>
<path d="M711.3,344.7 715.1,347.1 716.1,349.7 715.5,349.1 712.8,346.3Z" fill="#bcbddc" stroke="#606078"/>
<path d="M719.7,351.5 722.3,354.4 721.7,355.9 720.0,353.6Z" fill="#bcbddc" stroke="#606078"/>
<path d="M730.3,362.2 733.0,363.0 732.9,363.8 730.4,363.5Z" fill="#bcbddc" stroke="#606078"/>
<path d="M733.1,359.9 734.4,362.5 733.9,363.0 732.8,360.7Z" fill="#bcbddc" stroke="#606078"/>
<path d="M728.2,357.8 731.0,359.6 730.8,360.1 728.2,358.6Z" fill="#bcbddc" stroke="#606078"/>
<path d="M723.8,355.4 726.0,356.7 725.7,357.3 723.8,355.9Z" fill="#bcbddc" stroke="#606078"/>
<path d="M733.9,364.8 736.1,365.6 735.8,366.2 733.9,365.4Z" fill="#bcbddc" stroke="#606078"/>
<path d="M744.3,376.4 745.5,377.1 745.2,378.7 744.1,378.4Z" fill="#bcbddc" stroke="#606078"/>
<path d="M745.0,379.8 746.2,380.5 745.8,381.1 745.0,380.8Z" fill="#bcbddc" stroke="#606078"/>
<path d="M735.2,390.5 738.1,392.3 740.6,396.0 739.3,396.5 736.5,394.1 734.8,391.8Z" fill="#bcbddc" stroke="#606078"/>
<path d="M767.2,383.4 770.0,383.7 769.9,385.2 766.9,385.5Z" fill="#bcbddc" stroke="#606078"/>
<path d="M770.4,381.3 774.1,380.3 773.8,381.3 770.8,382.4Z" fill="#bcbddc" stroke="#606078"/>
<path d="M690.6,365.9 692.3,370.6 691.6,375.3 695.4,377.1 695.6,380.4 695.8,383.7 695.7,387.1 697.8,388.9 699.9,390.7 701.0,394.1 703.3,398.6 706.0,402.8 706.7,405.9 706.2,408.8 705.6,411.7 703.8,414.7 701.9,417.7 698.8,422.1 694.2,426.3 691.5,429.2 688.8,432.1 686.6,435.5 681.4,437.0 676.2,440.2 673.9,437.8 670.4,439.4 668.2,438.5 666.1,437.5 665.0,434.7 665.9,431.5 664.0,431.0 664.9,428.9 662.9,430.0 663.7,426.8 665.5,424.7 662.2,426.8 658.9,429.2 657.6,424.2 656.9,422.1 654.6,421.2 652.2,420.3 647.5,420.8 643.9,421.6 640.3,422.4 635.2,424.2 633.2,426.6 629.3,426.7 625.4,426.8 620.0,429.5 615.8,429.2 614.4,427.6 616.2,424.6 617.9,421.6 617.7,417.7 618.2,413.0 618.0,410.1 617.7,407.2 618.2,402.0 619.3,399.1 620.2,396.2 621.8,396.5 625.8,392.8 629.4,392.0 633.1,390.2 637.9,388.9 641.5,385.0 642.0,382.4 644.6,383.2 645.3,380.3 649.0,377.1 651.6,374.5 653.9,374.3 656.4,376.6 659.3,376.9 660.3,373.2 663.2,370.3 667.2,369.6 667.6,367.5 670.3,368.6 672.9,369.8 677.0,369.8 674.7,373.2 673.0,377.1 676.1,379.2 679.9,382.9 683.9,383.7 686.5,378.4 687.6,373.2 688.6,369.3 689.6,366.7Z" fill="#dadaeb" stroke="#606078"/>
<path d="M670.0,444.3 673.2,445.3 677.3,444.8 675.1,448.2 671.7,450.8 669.5,451.8 668.1,450.8 668.6,448.2Z" fill="#dadaeb" stroke="#606078"/>
<path d="M740.1,427.9 742.2,430.2 740.9,434.2 743.4,433.6 742.1,436.2 744.0,437.3 747.4,436.5 743.4,440.4 740.9,441.2 737.3,444.6 733.2,446.6 732.7,445.9 735.5,443.0 734.5,441.2 737.2,439.4 739.5,436.0 740.4,432.9 739.9,429.5Z" fill="#dadaeb" stroke="#606078"/>
<path d="M729.8,443.8 729.3,445.6 732.1,445.1 730.5,447.2 725.5,450.3 723.8,451.8 719.2,453.6 714.8,457.7 710.6,459.5 708.2,459.5 705.7,458.0 710.3,454.9 714.9,452.6 720.2,450.3 723.5,448.2 726.0,446.4 728.2,444.6Z" fill="#dadaeb" stroke="#606078"/>
<path d="M170.9,280.6 175.6,277.7 179.0,277.5 182.4,278.0 186.7,279.6 190.9,282.4 194.7,285.1 191.6,285.8 189.1,285.9 186.6,286.0 188.0,284.0 185.3,281.7 180.9,280.9 177.7,279.3 174.2,279.8Z" fill="#bcbddc" stroke="#606078"/>
<path d="M184.8,289.8 187.8,289.5 189.5,290.8 187.6,291.3 184.9,290.6Z" fill="#9e9ac8" stroke="#606078"/>
<path d="M210.1,289.5 213.5,289.8 213.2,290.8 210.0,290.8Z" fill="#9e9ac8" stroke="#606078"/>
<path d="M220.7,309.9 223.0,309.6 222.7,311.5 220.6,311.5Z" fill="#bcbddc" stroke="#606078"/>
<path d="M187.0,272.2 188.1,272.2 188.2,274.6 187.1,274.3Z" fill="#9e9ac8" stroke="#606078"/>
<path d="M188.9,267.5 190.5,268.6 190.1,269.4 188.6,268.1Z" fill="#9e9ac8" stroke="#606078"/>
<path d="M243.4,178.4 240.3,177.3 237.3,176.3 235.5,174.7 233.8,173.0 231.3,172.8 228.7,172.6 225.5,172.1 227.5,170.3 230.7,170.1 233.8,170.0 237.3,167.1 239.8,164.4 238.4,163.3 237.0,162.2 234.8,161.1 232.6,160.0 232.6,157.8 229.3,158.5 226.0,159.2 222.7,160.0 220.9,159.6 219.0,159.3 217.6,158.5 216.2,157.8 219.0,153.5 223.8,151.9 226.0,152.0 228.3,152.1 231.5,152.1 234.7,152.1 237.1,153.0 239.5,154.0 241.1,155.1 242.6,156.3 244.6,157.0 246.5,157.8 248.3,158.9 250.1,160.0 250.2,162.6 251.9,164.0 253.6,165.5 255.4,166.3 257.1,167.1 253.0,170.0 251.1,169.5 249.2,168.9 247.4,168.2 245.6,167.5 246.0,170.0 247.6,171.2 249.2,172.3 246.9,175.8 244.0,175.0 241.1,174.2 242.8,176.2 244.4,178.2Z" fill="#bcbddc" stroke="#606078"/>
<path d="M193.5,161.1 189.6,162.0 185.8,163.0 183.0,163.0 180.2,163.0 177.3,163.0 174.3,163.1 171.2,163.3 169.7,162.7 168.1,162.2 167.9,160.0 170.1,158.7 169.8,156.7 174.6,154.0 178.0,153.4 181.4,152.9 184.2,153.2 187.1,153.5 189.4,153.2 191.7,152.9 193.2,153.4 194.6,154.0 192.2,157.1 193.9,158.3 195.7,159.5Z" fill="#bcbddc" stroke="#606078"/>
<path d="M158.9,155.9 160.3,156.6 161.7,157.4 165.7,156.7 171.4,154.6 174.7,153.8 178.0,153.1 178.4,150.8 175.9,150.6 173.4,150.4 170.4,150.6 167.4,150.8 163.1,153.5Z" fill="#bcbddc" stroke="#606078"/>
<path d="M181.5,149.0 183.4,149.5 185.3,150.1 187.3,150.6 190.9,150.2 194.5,149.8 198.1,149.4 200.6,147.4 198.1,146.9 195.7,146.4 193.2,146.4 190.7,146.4 188.1,146.4 185.5,146.9 182.9,147.4Z" fill="#bcbddc" stroke="#606078"/>
<path d="M197.7,155.6 200.1,156.0 202.5,156.4 204.8,156.7 208.6,153.5 206.9,152.5 205.2,151.4 202.1,152.5 199.1,153.5Z" fill="#bcbddc" stroke="#606078"/>
<path d="M208.3,155.6 211.4,155.2 214.5,154.7 217.7,154.2 220.2,151.4 217.8,151.4 215.5,151.4 213.1,151.4Z" fill="#bcbddc" stroke="#606078"/>
<path d="M218.8,150.4 222.0,150.4 225.2,150.3 228.3,150.3 231.5,150.3 234.7,150.2 237.8,150.2 240.2,148.4 239.1,147.6 237.9,146.8 235.4,146.7 232.8,146.6 230.2,146.5 227.7,146.4 225.2,146.6 222.7,146.8Z" fill="#bcbddc" stroke="#606078"/>
<path d="M225.7,146.8 228.7,146.8 231.7,146.8 234.8,146.9 237.8,146.9 240.8,147.0 243.9,145.7 247.0,144.4 250.0,143.2 253.0,142.1 256.2,141.3 259.4,140.5 262.5,139.7 265.7,138.8 268.9,138.0 272.0,137.2 274.8,136.3 277.6,135.6 275.1,135.3 272.6,135.1 270.1,134.9 267.6,134.6 264.8,134.7 262.0,134.7 259.3,134.7 256.5,134.8 253.7,134.8 250.6,135.2 247.4,135.5 244.1,135.9 240.9,136.3 237.6,136.7 232.0,138.8 233.7,139.4 235.3,140.0 237.0,140.6 232.8,143.0 227.9,144.8Z" fill="#bcbddc" stroke="#606078"/>
<path d="M222.5,143.0 225.4,142.8 228.3,142.5 231.2,142.2 234.1,141.9 237.3,139.2 235.6,138.7 233.8,138.2 232.1,137.7 228.7,138.7 225.2,139.7Z" fill="#bcbddc" stroke="#606078"/>
<path d="M208.7,173.5 211.6,174.4 214.6,175.4 217.4,174.4 220.2,173.5 219.8,170.0 217.6,169.5 215.4,168.9 210.3,171.2Z" fill="#bcbddc" stroke="#606078"/>
<path d="M195.8,162.2 198.3,162.7 200.8,163.3 203.5,161.1 201.9,160.5 200.3,160.0Z" fill="#bcbddc" stroke="#606078"/>
<path d="M242.1,213.7 245.5,211.4 248.1,206.3 252.0,203.6 250.7,207.6 254.3,208.9 255.6,211.4 255.5,214.0 253.3,216.3 250.4,215.5 248.9,213.7 245.5,213.7Z" fill="#bcbddc" stroke="#606078"/>
<path d="M107.2,205.6 109.7,206.6 112.3,207.6 112.8,211.4 110.2,210.7 108.7,209.1 107.3,207.6Z" fill="#bcbddc" stroke="#606078"/>
<path d="M104.3,197.6 106.8,197.6 104.5,202.1 103.5,200.1Z" fill="#bcbddc" stroke="#606078"/>
<path d="M233.6,207.9 236.1,208.8 238.6,209.6 235.0,209.4Z" fill="#bcbddc" stroke="#606078"/>
<path d="M71.3,189.0 76.3,187.8 74.9,189.5 70.4,190.7Z" fill="#9e9ac8" stroke="#606078"/>
<path d="M56.9,174.7 59.1,174.9 61.4,175.1 58.4,175.8Z" fill="#9e9ac8" stroke="#606078"/>
<path d="M55.4,182.5 58.1,182.2 56.1,183.4Z" fill="#9e9ac8" stroke="#606078"/>
<path d="M433.4,246.3 434.8,245.4 438.2,244.6 436.8,246.3 435.0,247.4 433.7,247.0Z" fill="#bcbddc" stroke="#606078"/>
<path d="M414.1,244.8 415.6,245.0 417.9,245.3 420.2,245.6 420.1,246.3 417.0,246.6 414.1,245.8Z" fill="#dadaeb" stroke="#606078"/>
<path d="M389.7,239.0 391.6,238.0 394.0,237.9 396.5,237.7 395.6,240.3 396.1,241.9 393.9,241.6 390.8,239.6Z" fill="#dadaeb" stroke="#606078"/>
<path d="M380.4,231.0 382.5,229.9 383.8,232.0 383.5,235.4 382.3,235.9 381.0,235.6 380.9,233.3Z" fill="#dadaeb" stroke="#606078"/>
<path d="M381.1,227.1 382.7,225.5 383.0,227.9 382.4,229.7 381.4,228.6Z" fill="#bcbddc" stroke="#606078"/>
<path d="M384.1,193.4 386.1,192.4 387.2,193.4 386.5,194.6 384.6,194.6Z" fill="#dadaeb" stroke="#606078"/>
<path d="M381.8,193.9 383.6,193.9 383.8,194.9 382.3,195.0Z" fill="#dadaeb" stroke="#606078"/>
<path d="M397.5,190.2 398.7,188.0 398.7,189.2 397.7,190.4Z" fill="#bcbddc" stroke="#606078"/>
<path d="M404.0,186.5 406.4,186.3 405.8,187.3 404.3,187.5Z" fill="#9e9ac8" stroke="#606078"/>
<path d="M8.8,286.1 9.5,284.9 11.1,286.1 11.4,286.9 9.2,288.5 8.6,287.2Z" fill="#9e9ac8" stroke="#606078"/>
<path d="M7.9,283.2 9.5,283.2 8.8,284.0Z" fill="#9e9ac8" stroke="#606078"/>
<path d="M4.9,281.7 6.0,281.7 5.6,282.3Z" fill="#9e9ac8" stroke="#606078"/>
<path d="M1.9,280.1 2.8,279.8 2.4,280.6Z" fill="#9e9ac8" stroke="#606078"/>
<path d="M174.5,147.4 177.3,147.6 180.1,147.8 184.1,146.6 188.0,145.4 185.8,145.1 183.6,144.8 179.1,146.1Z" fill="#bcbddc" stroke="#606078"/>
<path d="M194.9,144.2 197.1,144.0 199.2,143.8 200.6,142.3 198.4,142.6 196.1,142.8Z" fill="#bcbddc" stroke="#606078"/>
<path d="M208.6,143.4 211.6,143.4 214.6,143.4 218.5,141.5 215.9,141.3 213.4,141.0 210.9,141.4 208.5,141.9Z" fill="#bcbddc" stroke="#606078"/>
<path d="M218.3,143.4 221.9,142.8 221.9,141.7Z" fill="#bcbddc" stroke="#606078"/>
<path d="M205.0,148.8 207.3,148.8 209.5,148.9 211.8,149.0 214.0,146.4 211.4,146.3 208.9,146.2Z" fill="#bcbddc" stroke="#606078"/>
<path d="M212.8,150.2 214.9,150.1 216.9,150.0 218.3,148.4 215.5,148.4Z" fill="#bcbddc" stroke="#606078"/>
<path d="M235.0,152.1 237.0,152.3 239.1,152.6 241.1,152.9 238.7,154.0 236.4,153.8 234.1,153.7Z" fill="#bcbddc" stroke="#606078"/>
<path d="M214.0,176.3 216.9,175.8 215.0,177.5Z" fill="#bcbddc" stroke="#606078"/>
<path d="M230.7,165.3 234.7,164.4 234.0,165.9 231.0,166.2Z" fill="#bcbddc" stroke="#606078"/>
<path d="M307.8,293.7 308.5,293.6 308.2,294.5Z" fill="#dadaeb" stroke="#606078"/>
<path d="M308.6,297.9 309.5,297.9 309.2,298.9 308.6,298.7Z" fill="#dadaeb" stroke="#606078"/>
<path d="M305.3,292.9 306.0,292.9 305.7,293.7Z" fill="#dadaeb" stroke="#606078"/>
<path d="M310.5,295.5 311.2,295.5 310.9,296.2Z" fill="#dadaeb" stroke="#606078"/>
<path d="M307.0,298.5 307.4,298.5 307.2,299.2Z" fill="#dadaeb" stroke="#606078"/>
<path d="M462.2,367.7 462.9,368.0 462.6,369.0Z" fill="#bcbddc" stroke="#606078"/>
<path d="M464.5,369.6 465.2,369.6 464.9,370.3Z" fill="#bcbddc" stroke="#606078"/>
<path d="M466.2,371.1 466.9,371.1 466.7,371.9Z" fill="#bcbddc" stroke="#606078"/>
<path d="M493.1,390.2 494.2,390.2 493.8,391.5 493.0,391.3Z" fill="#9e9ac8" stroke="#606078"/>
<path d="M488.1,392.6 489.5,392.6 489.1,393.7 488.2,393.6Z" fill="#bcbddc" stroke="#606078"/>
<path d="M490.6,349.8 491.3,349.9 491.1,350.5Z" fill="#bcbddc" stroke="#606078"/>
<path d="M532.2,326.4 532.9,326.4 532.7,327.7Z" fill="#bcbddc" stroke="#606078"/>
<path d="M378.0,336.9 378.6,336.9 378.3,337.8Z" fill="#dadaeb" stroke="#606078"/>
<path d="M382.9,328.1 383.7,328.2 383.1,329.4Z" fill="#f2f0f7" stroke="#606078"/>
<path d="M222.4,295.0 223.3,295.0 222.7,296.3Z" fill="#dadaeb" stroke="#606078"/>
<path d="M223.0,299.1 223.8,299.2 223.6,300.2Z" fill="#dadaeb" stroke="#606078"/>
<path d="M222.4,297.1 223.0,297.2 222.7,298.1Z" fill="#dadaeb" stroke="#606078"/>
<path d="M223.2,301.1 223.5,301.1 223.3,301.9Z" fill="#dadaeb" stroke="#606078"/>
<path d="M226.2,303.1 226.7,303.2 226.4,303.8Z" fill="#dadaeb" stroke="#606078"/>
<path d="M221.1,306.0 221.6,306.0 221.3,306.5Z" fill="#dadaeb" stroke="#606078"/>
<path d="M196.0,282.7 197.4,282.4 197.1,283.1Z" fill="#9e9ac8" stroke="#606078"/>
<path d="M186.3,268.1 188.6,268.1 187.6,268.7Z" fill="#9e9ac8" stroke="#606078"/>
<path d="M-33.1,373.2 -31.7,373.2 -32.0,374.1Z" fill="#bcbddc" stroke="#606078"/>
<path d="M-34.3,393.1 -33.4,393.1 -33.8,393.6Z" fill="#bcbddc" stroke="#606078"/>
<path d="M672.9,317.8 673.4,317.8 673.2,318.8Z" fill="#bcbddc" stroke="#606078"/>
<path d="M694.6,302.3 695.2,302.3 695.0,303.2Z" fill="#bcbddc" stroke="#606078"/>
<path d="M727.4,319.6 728.0,319.6 727.7,320.1Z" fill="#bcbddc" stroke="#606078"/>
<path d="M746.1,383.8 747.2,383.9 746.6,384.6Z" fill="#bcbddc" stroke="#606078"/>
<path d="M747.9,386.8 748.3,386.8 747.9,387.6Z" fill="#bcbddc" stroke="#606078"/>
<path d="M742.1,392.8 743.5,392.3 743.5,393.4Z" fill="#bcbddc" stroke="#606078"/>
<path d="M399.6,182.0 400.3,182.0 400.2,182.7 399.5,182.7Z" fill="#f2f0f7" stroke="#606078"/>
<path d="M404.6,185.5 405.8,185.3 405.8,185.9 404.8,185.9Z" fill="#9e9ac8" stroke="#606078"/>
<path d="M394.3,192.1 395.3,189.3 395.0,189.5 394.2,191.2Z" fill="#bcbddc" stroke="#606078"/>
<path d="M391.3,194.4 392.2,194.4 392.1,195.1 391.4,195.0Z" fill="#dadaeb" stroke="#606078"/>
<path d="M393.8,243.5 394.6,244.0 394.3,244.3Z" fill="#dadaeb" stroke="#606078"/>
<path d="M476.0,269.2 476.6,269.4 476.4,270.3Z" fill="#bcbddc" stroke="#606078"/>
<path d="M587.8,334.2 589.2,336.1 588.3,335.5Z" fill="#dadaeb" stroke="#606078"/>
<path d="M590.8,340.5 592.4,342.6 591.5,342.1Z" fill="#dadaeb" stroke="#606078"/>
<path d="M607.9,342.1 609.4,344.4 608.2,345.7 606.7,342.9Z" fill="#dadaeb" stroke="#606078"/>
<path d="M611.5,344.7 612.9,345.0 612.4,346.3 611.5,345.7Z" fill="#dadaeb" stroke="#606078"/>
<path d="M622.8,355.9 625.8,355.9 625.5,356.7 623.0,356.7Z" fill="#dadaeb" stroke="#606078"/>
<path d="M648.6,359.6 650.9,359.4 649.7,360.1Z" fill="#dadaeb" stroke="#606078"/>
<path d="M653.3,358.0 655.2,357.8 654.4,358.6Z" fill="#dadaeb" stroke="#606078"/>
<path d="M664.9,357.5 666.5,356.7 666.2,358.8 665.0,358.8Z" fill="#dadaeb" stroke="#606078"/>
<path d="M672.6,353.1 673.7,352.5 673.3,355.7 672.4,354.9Z" fill="#dadaeb" stroke="#606078"/>
<path d="M676.1,339.7 677.9,340.3 677.2,341.0Z" fill="#dadaeb" stroke="#606078"/>
<path d="M663.4,338.2 666.2,338.4 665.0,338.9Z" fill="#dadaeb" stroke="#606078"/>
<path d="M650.1,342.3 652.4,342.6 654.1,342.6 650.6,343.1Z" fill="#dadaeb" stroke="#606078"/>
<path d="M646.4,349.9 647.3,350.2 646.7,352.5 645.9,352.0Z" fill="#dadaeb" stroke="#606078"/>
<path d="M636.5,311.9 637.4,311.7 637.0,312.8Z" fill="#bcbddc" stroke="#606078"/>
<path d="M647.1,305.2 647.9,306.0 646.8,306.8 646.0,305.5Z" fill="#bcbddc" stroke="#606078"/>
<path d="M647.8,311.7 649.3,311.5 649.4,312.5 648.3,312.8Z" fill="#bcbddc" stroke="#606078"/>
<path d="M644.0,320.4 644.8,320.6 644.3,321.2Z" fill="#bcbddc" stroke="#606078"/>
<path d="M642.1,322.2 643.0,322.2 642.6,322.6Z" fill="#bcbddc" stroke="#606078"/>
<path d="M702.6,343.1 703.5,343.1 703.0,343.7Z" fill="#bcbddc" stroke="#606078"/>
<path d="M710.7,360.7 711.3,361.2 710.8,361.7Z" fill="#bcbddc" stroke="#606078"/>
<path d="M713.8,361.4 715.4,361.7 714.7,362.2Z" fill="#bcbddc" stroke="#606078"/>
<path d="M725.3,359.1 726.9,359.6 726.6,360.7 725.5,360.1Z" fill="#bcbddc" stroke="#606078"/>
<path d="M723.8,358.0 724.7,358.6 724.2,359.1Z" fill="#bcbddc" stroke="#606078"/>
<path d="M744.8,377.1 747.6,378.2 747.3,379.5Z" fill="#bcbddc" stroke="#606078"/>
<path d="M669.9,441.5 670.5,441.5 669.7,442.8 669.3,442.8Z" fill="#dadaeb" stroke="#606078"/>
<path d="M678.1,442.0 679.0,442.2 678.0,443.5 677.6,443.0Z" fill="#dadaeb" stroke="#606078"/>
<path d="M659.7,431.3 662.6,431.5 661.5,432.1 659.3,432.1Z" fill="#dadaeb" stroke="#606078"/>
<path d="M662.6,367.7 665.1,367.7 664.5,368.8 662.4,368.8Z" fill="#dadaeb" stroke="#606078"/>
<path d="M675.8,374.0 676.7,374.0 676.3,375.0 675.6,375.0Z" fill="#dadaeb" stroke="#606078"/>
<path d="M706.3,460.0 707.3,460.3 706.2,461.1 705.4,461.1Z" fill="#dadaeb" stroke="#606078"/>
<path d="M648.4,252.1 648.2,252.6 648.7,252.9Z" fill="#dadaeb" stroke="#606078"/>
<path d="M650.0,267.8 649.9,268.8 649.4,269.6 649.6,268.6Z" fill="#dadaeb" stroke="#606078"/>
<path d="M651.2,263.6 652.1,263.6 651.7,264.4Z" fill="#dadaeb" stroke="#606078"/>
<path d="M651.9,258.4 652.6,258.4 652.3,258.9Z" fill="#dadaeb" stroke="#606078"/>
<path d="M660.0,237.7 660.9,238.3 660.9,239.0 660.2,238.5Z" fill="#dadaeb" stroke="#606078"/>
<path d="M639.5,250.3 641.1,250.3 641.1,250.9 639.8,250.9Z" fill="#bcbddc" stroke="#606078"/>
<path d="M665.6,221.9 667.5,221.9 667.7,223.7 666.5,223.5Z" fill="url(#hatch)" stroke="#cfcfcf"/>
<path d="M666.5,219.1 670.4,219.3 669.9,220.9 667.4,220.4Z" fill="url(#hatch)" stroke="#cfcfcf"/>
<path d="M670.7,217.8 672.4,217.3 672.3,218.6Z" fill="url(#hatch)" stroke="#cfcfcf"/>
<path d="M673.2,206.9 674.3,205.6 674.6,207.1Z" fill="url(#hatch)" stroke="#cfcfcf"/>
<path d="M682.3,194.4 683.3,194.6 685.3,195.8 683.6,195.3Z" fill="url(#hatch)" stroke="#cfcfcf"/>
<path d="M443.6,162.2 446.8,161.7 446.1,162.8 444.2,162.6Z" fill="url(#hatch)" stroke="#cfcfcf"/>
<path d="M459.8,159.3 463.2,160.2 462.2,160.6 460.1,160.0Z" fill="url(#hatch)" stroke="#cfcfcf"/>
<path d="M429.8,138.7 432.5,138.4 435.1,138.2 437.6,138.3 440.0,138.4 442.5,138.5 446.0,139.4 443.7,139.5 441.4,139.6 439.1,139.7 436.4,139.6 433.7,139.5 431.0,139.4Z" fill="url(#hatch)" stroke="#cfcfcf"/>
<path d="M445.6,137.2 448.3,137.1 451.1,137.0 454.8,138.0 452.2,138.2 449.6,138.5 447.2,138.2 444.9,138.0Z" fill="url(#hatch)" stroke="#cfcfcf"/>
<path d="M485.7,152.9 487.9,152.7 490.1,152.5 489.5,153.7 486.2,153.5Z" fill="url(#hatch)" stroke="#cfcfcf"/>
<path d="M654.1,156.7 656.5,156.7 658.7,158.0 656.5,158.0Z" fill="url(#hatch)" stroke="#cfcfcf"/>
<path d="M69.5,156.7 71.2,156.9 72.9,157.1 70.6,158.0 67.3,158.0Z" fill="url(#hatch)" stroke="#cfcfcf"/>
<path d="M731.7,368.0 732.1,368.2 731.8,368.8Z" fill="#bcbddc" stroke="#606078"/>
<path d="M-0.8,332.7 -0.1,332.7 -0.4,333.5Z" fill="#bcbddc" stroke="#606078"/>
<path d="M198.4,309.4 199.7,311.0 199.1,313.6 197.3,313.6 197.2,311.2Z" fill="#ffffff" stroke="#606078"/>
</g>
<g id="legend">
<rect x="186.5" y="537.5" width="47" height="11" fill="url(#hatch)" stroke="#c6c6c6" stroke-width="1"/>
<line x1="210" y1="535" x2="210" y2="537.5" stroke="#c4c4c4" stroke-width="1"/>
<text x="210" y="530" text-anchor="middle">No data</text>
<path d="M253.7,543 L258.5,537.5 L312.2,537.5 L312.2,548.5 L258.5,548.5Z" fill="#f2f0f7" stroke="#b8b8b8" stroke-width="0.7"/>
<rect x="312.2" y="537.5" width="58.5" height="11" fill="#dadaeb" stroke="#b8b8b8" stroke-width="0.7"/>
<rect x="370.7" y="537.5" width="58.5" height="11" fill="#bcbddc" stroke="#b0b0c8" stroke-width="0.7"/>
<rect x="429.2" y="537.5" width="58.5" height="11" fill="#9e9ac8" stroke="#908cb8" stroke-width="0.7"/>
<rect x="487.7" y="537.5" width="58.5" height="11" fill="#807dba" stroke="#7672aa" stroke-width="0.7"/>
<rect x="546.2" y="537.5" width="58.5" height="11" fill="#6a51a3" stroke="#6a51a3" stroke-width="0.7"/>
<path d="M604.7,537.5 L658.4,537.5 L663.2,543 L658.4,548.5 L604.7,548.5Z" fill="#4a1486" stroke="#4a1486" stroke-width="0.7"/>
<g stroke="#999" stroke-width="0.8">
<line x1="312.2" y1="534" x2="312.2" y2="548.5"/><line x1="370.7" y1="534" x2="370.7" y2="548.5"/><line x1="429.2" y1="534" x2="429.2" y2="548.5"/><line x1="487.7" y1="534" x2="487.7" y2="548.5"/><line x1="546.2" y1="534" x2="546.2" y2="548.5"/><line x1="604.7" y1="534" x2="604.7" y2="548.5"/>
</g>
<text x="312.2" y="530" text-anchor="middle">20%</text>
<text x="370.7" y="530" text-anchor="middle">25%</text>
<text x="429.2" y="530" text-anchor="middle">30%</text>
<text x="487.7" y="530" text-anchor="middle">35%</text>
<text x="546.2" y="530" text-anchor="middle">40%</text>
<text x="604.7" y="530" text-anchor="middle">45%</text>
</g>
</svg>
<div id="src"><b>Data source:</b> World Inequality Database (WID.world) (2026)</div>
<div id="lic">OurWorldinData.org/economic-inequality | CC BY</div>
</body>
</html>
